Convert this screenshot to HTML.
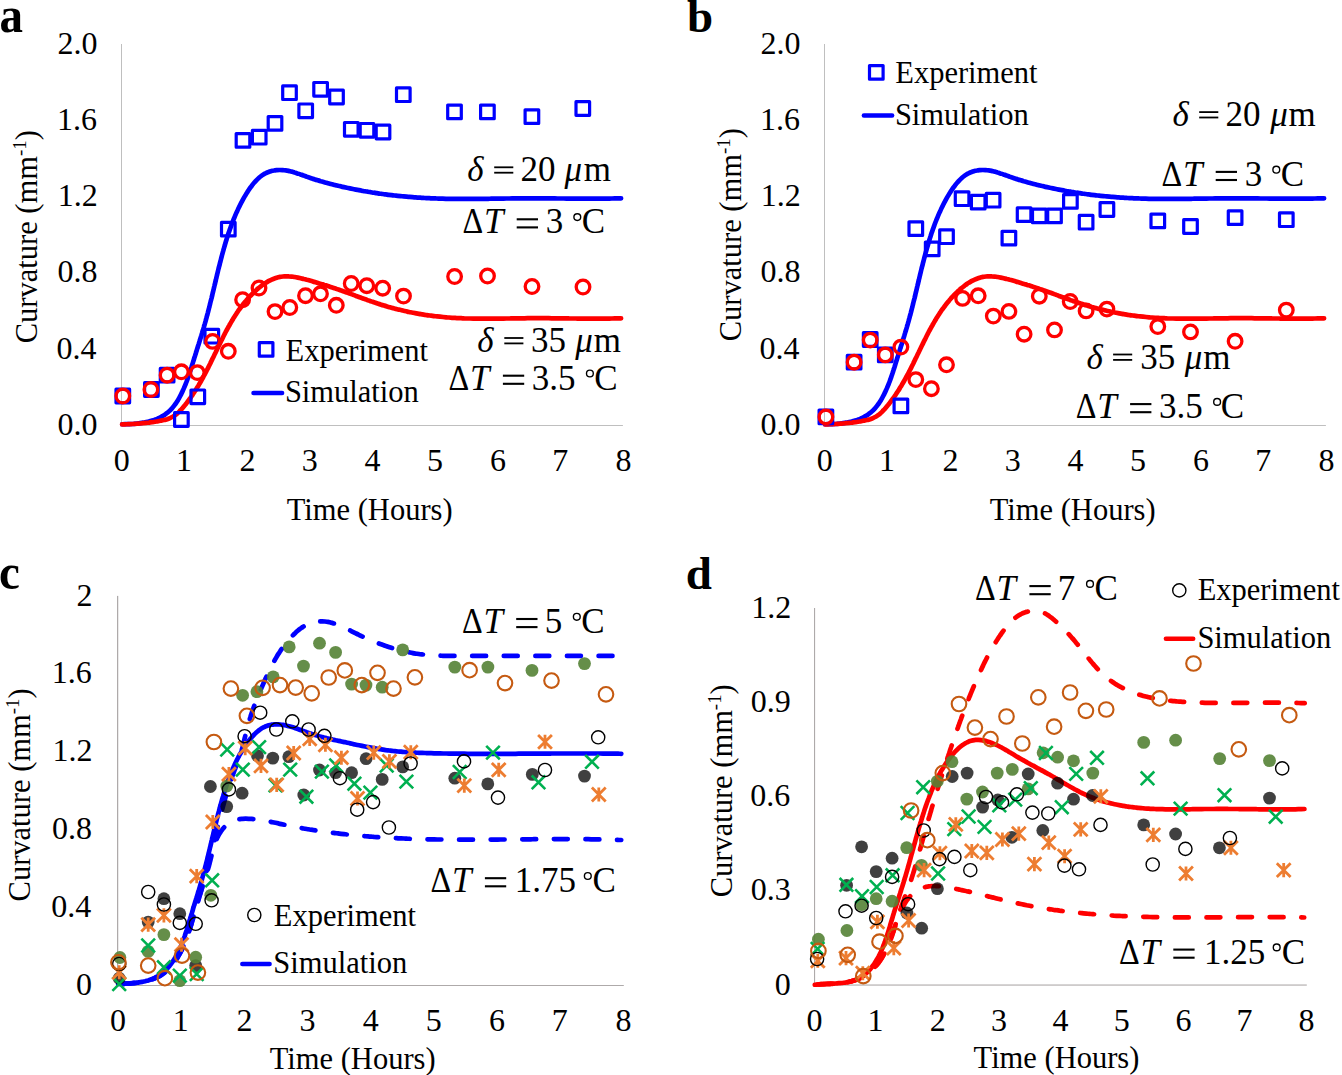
<!DOCTYPE html>
<html><head><meta charset="utf-8"><style>
html,body{margin:0;padding:0;background:#fff;overflow:hidden;width:1342px;height:1075px;}
svg{display:block;}
text{font-family:"Liberation Serif", serif;}
</style></head><body>
<svg width="1342" height="1075" viewBox="0 0 1342 1075">
<rect width="1342" height="1075" fill="#fff"/>
<rect x="121.00" y="44.00" width="1.0" height="382.00" fill="#bfbfbf"/>
<rect x="121.00" y="425.00" width="501.90" height="1.0" fill="#bfbfbf"/>
<text x="57.38" y="434.80" font-size="32" font-weight="normal" font-style="normal" fill="#000" >0.0</text>
<text x="56.58" y="358.60" font-size="32" font-weight="normal" font-style="normal" fill="#000" >0.4</text>
<text x="57.38" y="282.40" font-size="32" font-weight="normal" font-style="normal" fill="#000" >0.8</text>
<text x="57.86" y="206.20" font-size="32" font-weight="normal" font-style="normal" fill="#000" >1.2</text>
<text x="57.06" y="130.00" font-size="32" font-weight="normal" font-style="normal" fill="#000" >1.6</text>
<text x="57.38" y="53.80" font-size="32" font-weight="normal" font-style="normal" fill="#000" >2.0</text>
<text x="113.80" y="471.30" font-size="32" font-weight="normal" font-style="normal" fill="#000" >0</text>
<text x="176.11" y="471.30" font-size="32" font-weight="normal" font-style="normal" fill="#000" >1</text>
<text x="239.38" y="471.30" font-size="32" font-weight="normal" font-style="normal" fill="#000" >2</text>
<text x="301.86" y="471.30" font-size="32" font-weight="normal" font-style="normal" fill="#000" >3</text>
<text x="364.57" y="471.30" font-size="32" font-weight="normal" font-style="normal" fill="#000" >4</text>
<text x="427.04" y="471.30" font-size="32" font-weight="normal" font-style="normal" fill="#000" >5</text>
<text x="489.92" y="471.30" font-size="32" font-weight="normal" font-style="normal" fill="#000" >6</text>
<text x="552.23" y="471.30" font-size="32" font-weight="normal" font-style="normal" fill="#000" >7</text>
<text x="615.50" y="471.30" font-size="32" font-weight="normal" font-style="normal" fill="#000" >8</text>
<text x="286.79" y="519.80" font-size="30.5" font-weight="normal" font-style="normal" fill="#000" >Time (Hours)</text>
<path d="M122.25,424.26C123.2,424.2 124.1,424.2 125.1,424.2C126.1,424.2 127.0,424.1 128.0,424.1C129.0,424.1 130.0,424.0 131.0,424.0C132.0,423.9 133.0,423.8 134.0,423.8C135.0,423.7 136.0,423.6 137.1,423.5C138.1,423.4 139.1,423.3 140.1,423.1C141.1,423.0 142.2,422.8 143.2,422.7C144.2,422.5 145.2,422.3 146.2,422.1C147.2,421.9 148.2,421.7 149.2,421.4C150.2,421.2 151.2,420.9 152.2,420.6C153.2,420.3 154.1,420.0 155.1,419.6C156.0,419.3 156.9,418.9 157.9,418.5C158.8,418.1 159.7,417.7 160.5,417.2C161.4,416.7 162.3,416.2 163.1,415.7C164.0,415.2 164.8,414.7 165.6,414.1C166.4,413.5 167.1,412.9 167.9,412.3C168.7,411.6 169.4,411.0 170.1,410.3C170.8,409.6 171.5,408.9 172.1,408.2C172.8,407.4 173.4,406.7 174.0,405.9C174.6,405.1 175.2,404.3 175.8,403.5C176.3,402.7 176.9,401.8 177.4,401.0C177.9,400.1 178.5,399.3 179.0,398.4C179.4,397.5 179.9,396.6 180.4,395.7C180.9,394.8 181.3,393.9 181.7,393.0C182.2,392.1 182.6,391.2 183.0,390.3C183.4,389.4 183.8,388.5 184.2,387.5C184.6,386.6 185.0,385.7 185.4,384.7C185.8,383.8 186.1,382.8 186.5,381.9C186.8,380.9 187.2,380.0 187.5,379.0C187.9,378.1 188.2,377.1 188.5,376.2C188.9,375.2 189.2,374.2 189.5,373.3C189.8,372.3 190.1,371.3 190.4,370.4C190.7,369.4 191.1,368.4 191.4,367.5C191.7,366.5 192.0,365.5 192.3,364.5C192.6,363.6 192.9,362.6 193.2,361.6C193.5,360.7 193.8,359.7 194.1,358.7C194.4,357.8 194.7,356.8 195.0,355.9C195.3,354.9 195.6,353.9 195.9,353.0C196.2,352.0 196.5,351.1 196.8,350.1C197.1,349.1 197.4,348.2 197.7,347.2C198.0,346.3 198.3,345.3 198.6,344.4C198.9,343.4 199.2,342.4 199.5,341.5C199.8,340.5 200.1,339.6 200.4,338.6C200.7,337.7 201.0,336.7 201.3,335.8C201.6,334.8 201.8,333.8 202.1,332.9C202.4,331.9 202.7,331.0 203.0,330.0C203.3,329.1 203.6,328.1 203.9,327.1C204.1,326.2 204.4,325.2 204.7,324.3C205.0,323.3 205.2,322.3 205.5,321.4C205.8,320.4 206.0,319.4 206.3,318.5C206.6,317.5 206.8,316.5 207.1,315.6C207.4,314.6 207.6,313.6 207.9,312.6C208.1,311.7 208.4,310.7 208.6,309.7C208.9,308.7 209.1,307.8 209.4,306.8C209.6,305.8 209.9,304.8 210.1,303.8C210.4,302.9 210.6,301.9 210.8,300.9C211.1,299.9 211.3,298.9 211.6,298.0C211.8,297.0 212.0,296.0 212.3,295.0C212.5,294.0 212.7,293.0 213.0,292.1C213.2,291.1 213.4,290.1 213.7,289.1C213.9,288.1 214.1,287.1 214.4,286.1C214.6,285.2 214.8,284.2 215.1,283.2C215.3,282.2 215.5,281.2 215.8,280.2C216.0,279.2 216.3,278.3 216.5,277.3C216.7,276.3 217.0,275.3 217.2,274.3C217.4,273.3 217.7,272.4 217.9,271.4C218.2,270.4 218.4,269.4 218.6,268.4C218.9,267.4 219.1,266.5 219.4,265.5C219.6,264.5 219.9,263.5 220.1,262.6C220.4,261.6 220.6,260.6 220.9,259.6C221.1,258.6 221.4,257.7 221.6,256.7C221.9,255.7 222.1,254.8 222.4,253.8C222.7,252.8 222.9,251.8 223.2,250.9C223.5,249.9 223.7,248.9 224.0,248.0C224.3,247.0 224.6,246.0 224.9,245.1C225.1,244.1 225.4,243.2 225.7,242.2C226.0,241.2 226.3,240.3 226.6,239.3C226.9,238.4 227.2,237.4 227.5,236.5C227.8,235.5 228.1,234.6 228.4,233.6C228.7,232.7 229.1,231.8 229.4,230.8C229.7,229.9 230.0,228.9 230.4,228.0C230.7,227.1 231.0,226.1 231.4,225.2C231.7,224.3 232.1,223.3 232.4,222.4C232.8,221.5 233.1,220.6 233.5,219.6C233.9,218.7 234.3,217.8 234.7,216.9C235.0,215.9 235.4,215.0 235.8,214.1C236.2,213.2 236.6,212.3 237.1,211.4C237.5,210.4 237.9,209.5 238.3,208.6C238.8,207.7 239.2,206.8 239.7,205.9C240.1,205.0 240.6,204.1 241.0,203.2C241.5,202.3 242.0,201.4 242.5,200.4C243.0,199.5 243.5,198.6 244.0,197.7C244.5,196.8 245.0,195.9 245.6,195.0C246.1,194.1 246.7,193.2 247.2,192.4C247.8,191.5 248.3,190.6 248.9,189.7C249.5,188.8 250.1,188.0 250.7,187.1C251.3,186.3 252.0,185.5 252.6,184.7C253.2,183.9 253.9,183.1 254.6,182.3C255.2,181.5 255.9,180.8 256.6,180.1C257.3,179.4 258.0,178.7 258.8,178.0C259.5,177.4 260.3,176.7 261.0,176.2C261.8,175.6 262.6,175.0 263.4,174.5C264.2,174.0 265.0,173.5 265.9,173.1C266.7,172.7 267.6,172.3 268.5,172.0C269.4,171.6 270.3,171.3 271.2,171.1C272.1,170.8 273.0,170.6 274.0,170.5C274.9,170.3 275.9,170.2 276.8,170.1C277.8,170.0 278.8,170.0 279.8,170.0C280.7,170.0 281.7,170.0 282.7,170.1C283.7,170.2 284.7,170.3 285.7,170.4C286.7,170.5 287.7,170.7 288.6,170.9C289.6,171.1 290.6,171.4 291.6,171.6C292.6,171.9 293.5,172.2 294.5,172.5C295.5,172.7 296.5,173.1 297.4,173.4C298.4,173.7 299.4,174.1 300.4,174.4C301.3,174.7 302.3,175.1 303.3,175.4C304.2,175.8 305.2,176.1 306.2,176.5C307.1,176.8 308.1,177.2 309.1,177.5C310.0,177.8 311.0,178.1 312.0,178.5C312.9,178.8 313.9,179.1 314.9,179.4C315.8,179.7 316.8,180.0 317.8,180.3C318.7,180.6 319.7,180.9 320.7,181.2C321.6,181.4 322.6,181.7 323.6,182.0C324.6,182.3 325.5,182.5 326.5,182.8C327.5,183.1 328.4,183.3 329.4,183.6C330.4,183.8 331.3,184.1 332.3,184.3C333.3,184.6 334.3,184.8 335.2,185.1C336.2,185.3 337.2,185.5 338.2,185.8C339.1,186.0 340.1,186.2 341.1,186.4C342.1,186.7 343.0,186.9 344.0,187.1C345.0,187.3 346.0,187.5 347.0,187.8C347.9,188.0 348.9,188.2 349.9,188.4C350.9,188.6 351.9,188.8 352.9,189.0C353.8,189.2 354.8,189.4 355.8,189.6C356.8,189.8 357.8,190.0 358.8,190.1C359.8,190.3 360.8,190.5 361.7,190.7C362.7,190.9 363.7,191.0 364.7,191.2C365.7,191.4 366.7,191.6 367.7,191.7C368.7,191.9 369.7,192.1 370.7,192.2C371.7,192.4 372.6,192.5 373.6,192.7C374.6,192.8 375.6,193.0 376.6,193.1C377.6,193.3 378.6,193.4 379.6,193.6C380.6,193.7 381.6,193.9 382.6,194.0C383.6,194.1 384.6,194.3 385.6,194.4C386.6,194.5 387.6,194.7 388.6,194.8C389.6,194.9 390.6,195.0 391.6,195.1C392.6,195.3 393.6,195.4 394.6,195.5C395.6,195.6 396.6,195.7 397.6,195.8C398.6,195.9 399.6,196.0 400.6,196.1C401.6,196.2 402.6,196.3 403.6,196.4C404.6,196.5 405.6,196.6 406.6,196.7C407.6,196.8 408.6,196.9 409.6,196.9C410.7,197.0 411.7,197.1 412.7,197.2C413.7,197.3 414.7,197.3 415.7,197.4C416.7,197.5 417.7,197.6 418.7,197.6C419.7,197.7 420.7,197.7 421.7,197.8C422.7,197.9 423.7,197.9 424.7,198.0C425.7,198.0 426.7,198.1 427.7,198.1C428.8,198.2 429.8,198.2 430.8,198.3C431.8,198.3 432.8,198.4 433.8,198.4C434.8,198.4 435.8,198.5 436.8,198.5C437.8,198.5 438.8,198.6 439.8,198.6C440.8,198.6 441.8,198.7 442.8,198.7C443.8,198.7 444.9,198.7 445.9,198.8C446.9,198.8 447.9,198.8 448.9,198.8C449.9,198.8 450.9,198.8 451.9,198.9C452.9,198.9 453.9,198.9 454.9,198.9C455.9,198.9 456.9,198.9 457.9,198.9C458.9,198.9 460.0,198.9 461.0,198.9C462.0,198.9 463.0,198.9 464.0,198.9C465.0,198.9 466.0,198.9 467.0,198.9C468.0,198.9 469.0,198.9 470.0,198.9C471.0,198.9 472.0,198.9 473.0,198.9C474.1,198.9 475.1,198.9 476.1,198.9C477.1,198.9 478.1,198.9 479.1,198.9C480.1,198.9 481.1,198.8 482.1,198.8C483.1,198.8 484.1,198.8 485.1,198.8C486.1,198.8 487.1,198.8 488.2,198.8C489.2,198.8 490.2,198.7 491.2,198.7C492.2,198.7 493.2,198.7 494.2,198.7C495.2,198.7 496.2,198.7 497.2,198.6C498.2,198.6 499.2,198.6 500.2,198.6C501.2,198.6 502.3,198.6 503.3,198.6C504.3,198.5 505.3,198.5 506.3,198.5C507.3,198.5 508.3,198.5 509.3,198.5C510.3,198.5 511.3,198.5 512.3,198.4C513.3,198.4 514.3,198.4 515.3,198.4C516.4,198.4 517.4,198.4 518.4,198.4C519.4,198.4 520.4,198.4 521.4,198.4C522.4,198.3 523.4,198.3 524.4,198.3C525.4,198.3 526.4,198.3 527.4,198.3C528.4,198.3 529.4,198.3 530.5,198.3C531.5,198.3 532.5,198.3 533.5,198.3C534.5,198.3 535.5,198.3 536.5,198.3C537.5,198.3 538.5,198.3 539.5,198.3C540.5,198.3 541.5,198.3 542.5,198.4C543.5,198.4 544.6,198.4 545.6,198.4C546.6,198.4 547.6,198.4 548.6,198.4C549.6,198.4 550.6,198.4 551.6,198.4C552.6,198.4 553.6,198.4 554.6,198.4C555.6,198.5 556.6,198.5 557.6,198.5C558.7,198.5 559.7,198.5 560.7,198.5C561.7,198.5 562.7,198.5 563.7,198.5C564.7,198.5 565.7,198.5 566.7,198.6C567.7,198.6 568.7,198.6 569.7,198.6C570.7,198.6 571.7,198.6 572.8,198.6C573.8,198.6 574.8,198.6 575.8,198.6C576.8,198.6 577.8,198.6 578.8,198.7C579.8,198.7 580.8,198.7 581.8,198.7C582.8,198.7 583.8,198.7 584.8,198.7C585.8,198.7 586.9,198.7 587.9,198.7C588.9,198.7 589.9,198.7 590.9,198.7C591.9,198.7 592.9,198.7 593.9,198.7C594.9,198.7 595.9,198.7 596.9,198.7C597.9,198.7 598.9,198.7 599.9,198.7C601.0,198.6 602.0,198.6 603.0,198.6C604.0,198.6 605.0,198.6 606.0,198.6C607.0,198.6 608.0,198.6 609.0,198.6C610.0,198.5 611.0,198.5 612.0,198.5C613.0,198.5 614.0,198.5 615.1,198.4C616.1,198.4 617.1,198.4 618.1,198.4C619.1,198.3 620.1,198.3 621.1,198.3" fill="none" stroke="#0000ff" stroke-width="4.7" stroke-linecap="round" stroke-linejoin="round"/>
<path d="M122.11,424.33C123.1,424.3 124.1,424.3 125.1,424.3C126.1,424.3 127.1,424.2 128.2,424.2C129.2,424.2 130.2,424.1 131.2,424.1C132.2,424.0 133.2,424.0 134.2,423.9C135.2,423.9 136.1,423.8 137.1,423.7C138.1,423.7 139.1,423.6 140.1,423.5C141.1,423.4 142.1,423.3 143.1,423.2C144.1,423.1 145.1,423.0 146.1,422.9C147.1,422.8 148.1,422.7 149.1,422.6C150.1,422.4 151.1,422.3 152.1,422.2C153.1,422.0 154.1,421.9 155.1,421.7C156.2,421.5 157.2,421.4 158.2,421.2C159.2,421.0 160.2,420.9 161.2,420.6C162.2,420.4 163.2,420.2 164.2,420.0C165.2,419.7 166.2,419.5 167.2,419.2C168.1,418.9 169.1,418.5 170.0,418.1C170.9,417.7 171.8,417.3 172.7,416.8C173.5,416.3 174.3,415.8 175.1,415.2C175.9,414.6 176.7,414.0 177.4,413.3C178.1,412.7 178.8,412.0 179.5,411.3C180.2,410.6 180.9,409.8 181.6,409.1C182.3,408.3 182.9,407.6 183.6,406.8C184.2,406.0 184.8,405.3 185.5,404.5C186.1,403.7 186.7,402.9 187.3,402.1C187.9,401.3 188.5,400.5 189.1,399.7C189.7,398.9 190.3,398.1 190.9,397.3C191.5,396.5 192.0,395.6 192.6,394.8C193.1,394.0 193.7,393.1 194.2,392.3C194.8,391.5 195.3,390.6 195.9,389.8C196.4,388.9 196.9,388.1 197.4,387.2C198.0,386.4 198.5,385.5 199.0,384.6C199.5,383.8 200.0,382.9 200.5,382.0C201.0,381.1 201.5,380.3 202.0,379.4C202.5,378.5 203.0,377.6 203.4,376.7C203.9,375.8 204.4,375.0 204.9,374.1C205.3,373.2 205.8,372.3 206.3,371.4C206.7,370.5 207.2,369.6 207.7,368.7C208.1,367.8 208.6,366.9 209.0,366.0C209.5,365.1 209.9,364.2 210.4,363.2C210.8,362.3 211.3,361.4 211.7,360.5C212.1,359.6 212.6,358.7 213.0,357.8C213.5,356.9 213.9,356.0 214.3,355.1C214.8,354.2 215.2,353.3 215.7,352.3C216.1,351.4 216.5,350.5 217.0,349.6C217.4,348.7 217.8,347.8 218.3,346.9C218.7,346.0 219.2,345.1 219.6,344.2C220.0,343.3 220.5,342.4 220.9,341.5C221.4,340.6 221.8,339.7 222.3,338.8C222.7,337.9 223.2,337.0 223.6,336.1C224.1,335.2 224.5,334.3 225.0,333.4C225.5,332.5 225.9,331.6 226.4,330.7C226.9,329.9 227.3,329.0 227.8,328.1C228.3,327.2 228.8,326.3 229.3,325.5C229.8,324.6 230.2,323.7 230.7,322.9C231.2,322.0 231.8,321.1 232.3,320.3C232.8,319.4 233.3,318.6 233.8,317.7C234.3,316.9 234.9,316.0 235.4,315.2C236.0,314.4 236.5,313.5 237.1,312.7C237.6,311.9 238.2,311.1 238.7,310.2C239.3,309.4 239.9,308.6 240.5,307.8C241.1,307.0 241.7,306.2 242.3,305.4C242.9,304.6 243.5,303.8 244.1,303.0C244.8,302.2 245.4,301.5 246.1,300.7C246.7,299.9 247.4,299.2 248.0,298.4C248.7,297.6 249.4,296.9 250.1,296.2C250.8,295.4 251.5,294.7 252.2,294.0C252.9,293.2 253.7,292.5 254.4,291.8C255.2,291.1 255.9,290.4 256.7,289.7C257.4,289.0 258.2,288.4 259.0,287.7C259.8,287.0 260.6,286.4 261.4,285.8C262.2,285.2 263.1,284.6 263.9,284.0C264.7,283.4 265.6,282.9 266.4,282.4C267.3,281.9 268.1,281.4 269.0,280.9C269.9,280.4 270.8,280.0 271.7,279.6C272.6,279.2 273.5,278.8 274.4,278.5C275.3,278.1 276.2,277.8 277.2,277.6C278.1,277.3 279.0,277.1 280.0,276.9C280.9,276.7 281.9,276.6 282.9,276.5C283.8,276.4 284.8,276.4 285.8,276.3C286.8,276.3 287.8,276.3 288.7,276.4C289.7,276.4 290.7,276.5 291.7,276.6C292.7,276.7 293.7,276.9 294.7,277.0C295.8,277.2 296.8,277.4 297.8,277.6C298.8,277.8 299.8,278.0 300.8,278.2C301.8,278.5 302.8,278.7 303.8,279.0C304.8,279.2 305.8,279.5 306.8,279.8C307.8,280.0 308.8,280.3 309.8,280.6C310.8,280.9 311.8,281.2 312.8,281.4C313.7,281.7 314.7,282.0 315.7,282.3C316.7,282.6 317.6,282.9 318.6,283.2C319.6,283.5 320.5,283.8 321.5,284.1C322.4,284.3 323.4,284.6 324.3,284.9C325.3,285.2 326.2,285.5 327.2,285.8C328.1,286.1 329.1,286.5 330.0,286.8C331.0,287.1 331.9,287.4 332.9,287.7C333.8,288.0 334.7,288.3 335.7,288.6C336.6,289.0 337.5,289.3 338.5,289.6C339.4,289.9 340.4,290.2 341.3,290.6C342.2,290.9 343.2,291.2 344.1,291.6C345.0,291.9 346.0,292.2 346.9,292.6C347.9,292.9 348.8,293.2 349.7,293.6C350.7,293.9 351.6,294.3 352.6,294.6C353.5,295.0 354.5,295.3 355.4,295.7C356.3,296.0 357.3,296.4 358.2,296.7C359.2,297.1 360.1,297.4 361.1,297.8C362.0,298.1 363.0,298.4 363.9,298.8C364.9,299.1 365.8,299.5 366.8,299.8C367.7,300.2 368.7,300.5 369.7,300.8C370.6,301.2 371.6,301.5 372.5,301.8C373.5,302.2 374.4,302.5 375.4,302.8C376.4,303.2 377.3,303.5 378.3,303.8C379.2,304.1 380.2,304.4 381.2,304.7C382.1,305.0 383.1,305.3 384.1,305.6C385.0,305.9 386.0,306.2 387.0,306.5C387.9,306.8 388.9,307.0 389.9,307.3C390.8,307.6 391.8,307.9 392.8,308.1C393.7,308.4 394.7,308.6 395.7,308.9C396.7,309.1 397.6,309.4 398.6,309.6C399.6,309.9 400.6,310.1 401.6,310.3C402.5,310.6 403.5,310.8 404.5,311.0C405.5,311.2 406.5,311.4 407.4,311.6C408.4,311.8 409.4,312.1 410.4,312.3C411.4,312.5 412.3,312.6 413.3,312.8C414.3,313.0 415.3,313.2 416.3,313.4C417.3,313.6 418.3,313.7 419.3,313.9C420.2,314.1 421.2,314.2 422.2,314.4C423.2,314.6 424.2,314.7 425.2,314.9C426.2,315.0 427.2,315.2 428.2,315.3C429.2,315.4 430.2,315.6 431.1,315.7C432.1,315.8 433.1,316.0 434.1,316.1C435.1,316.2 436.1,316.3 437.1,316.4C438.1,316.5 439.1,316.6 440.1,316.7C441.1,316.8 442.1,316.9 443.1,317.0C444.1,317.1 445.1,317.2 446.1,317.3C447.1,317.4 448.1,317.5 449.1,317.5C450.1,317.6 451.1,317.7 452.1,317.8C453.1,317.8 454.1,317.9 455.1,317.9C456.1,318.0 457.1,318.1 458.1,318.1C459.1,318.2 460.1,318.2 461.1,318.2C462.1,318.3 463.1,318.3 464.1,318.4C465.1,318.4 466.1,318.4 467.1,318.5C468.1,318.5 469.2,318.5 470.2,318.5C471.2,318.6 472.2,318.6 473.2,318.6C474.2,318.6 475.2,318.6 476.2,318.6C477.2,318.7 478.2,318.7 479.2,318.7C480.2,318.7 481.2,318.7 482.2,318.7C483.2,318.7 484.3,318.7 485.3,318.7C486.3,318.7 487.3,318.7 488.3,318.7C489.3,318.7 490.3,318.7 491.3,318.7C492.3,318.7 493.3,318.7 494.3,318.7C495.3,318.7 496.4,318.6 497.4,318.6C498.4,318.6 499.4,318.6 500.4,318.6C501.4,318.6 502.4,318.6 503.4,318.6C504.4,318.5 505.4,318.5 506.4,318.5C507.4,318.5 508.5,318.5 509.5,318.5C510.5,318.5 511.5,318.4 512.5,318.4C513.5,318.4 514.5,318.4 515.5,318.4C516.5,318.4 517.5,318.3 518.5,318.3C519.5,318.3 520.6,318.3 521.6,318.3C522.6,318.3 523.6,318.3 524.6,318.3C525.6,318.2 526.6,318.2 527.6,318.2C528.6,318.2 529.6,318.2 530.6,318.2C531.6,318.2 532.6,318.2 533.6,318.2C534.7,318.2 535.7,318.2 536.7,318.2C537.7,318.2 538.7,318.2 539.7,318.2C540.7,318.2 541.7,318.2 542.7,318.2C543.7,318.2 544.7,318.2 545.7,318.2C546.7,318.2 547.7,318.2 548.7,318.2C549.7,318.2 550.7,318.2 551.7,318.3C552.7,318.3 553.7,318.3 554.7,318.3C555.7,318.3 556.8,318.3 557.8,318.3C558.8,318.3 559.8,318.3 560.8,318.4C561.8,318.4 562.8,318.4 563.8,318.4C564.8,318.4 565.8,318.4 566.8,318.4C567.8,318.4 568.8,318.5 569.8,318.5C570.8,318.5 571.8,318.5 572.8,318.5C573.8,318.5 574.8,318.5 575.8,318.5C576.8,318.5 577.8,318.6 578.8,318.6C579.8,318.6 580.8,318.6 581.8,318.6C582.9,318.6 583.9,318.6 584.9,318.6C585.9,318.6 586.9,318.6 587.9,318.6C588.9,318.6 589.9,318.7 590.9,318.7C591.9,318.7 592.9,318.7 593.9,318.7C594.9,318.7 595.9,318.7 596.9,318.7C597.9,318.7 598.9,318.7 599.9,318.7C601.0,318.6 602.0,318.6 603.0,318.6C604.0,318.6 605.0,318.6 606.0,318.6C607.0,318.6 608.0,318.6 609.0,318.6C610.0,318.5 611.0,318.5 612.0,318.5C613.1,318.5 614.1,318.5 615.1,318.4C616.1,318.4 617.1,318.4 618.1,318.4C619.1,318.3 620.1,318.3 621.1,318.3" fill="none" stroke="#ff0000" stroke-width="4.7" stroke-linecap="round" stroke-linejoin="round"/>
<rect x="116.00" y="389.20" width="13.60" height="13.60" fill="none" stroke="#0000ff" stroke-width="3.2" stroke-linejoin="round"/>
<rect x="144.60" y="382.70" width="13.60" height="13.60" fill="none" stroke="#0000ff" stroke-width="3.2" stroke-linejoin="round"/>
<rect x="160.30" y="368.40" width="13.60" height="13.60" fill="none" stroke="#0000ff" stroke-width="3.2" stroke-linejoin="round"/>
<rect x="174.60" y="412.70" width="13.60" height="13.60" fill="none" stroke="#0000ff" stroke-width="3.2" stroke-linejoin="round"/>
<rect x="191.00" y="390.00" width="13.60" height="13.60" fill="none" stroke="#0000ff" stroke-width="3.2" stroke-linejoin="round"/>
<rect x="205.00" y="329.40" width="13.60" height="13.60" fill="none" stroke="#0000ff" stroke-width="3.2" stroke-linejoin="round"/>
<rect x="221.50" y="222.30" width="13.60" height="13.60" fill="none" stroke="#0000ff" stroke-width="3.2" stroke-linejoin="round"/>
<rect x="236.20" y="133.60" width="13.60" height="13.60" fill="none" stroke="#0000ff" stroke-width="3.2" stroke-linejoin="round"/>
<rect x="252.40" y="130.40" width="13.60" height="13.60" fill="none" stroke="#0000ff" stroke-width="3.2" stroke-linejoin="round"/>
<rect x="268.20" y="116.60" width="13.60" height="13.60" fill="none" stroke="#0000ff" stroke-width="3.2" stroke-linejoin="round"/>
<rect x="282.70" y="85.90" width="13.60" height="13.60" fill="none" stroke="#0000ff" stroke-width="3.2" stroke-linejoin="round"/>
<rect x="298.90" y="104.00" width="13.60" height="13.60" fill="none" stroke="#0000ff" stroke-width="3.2" stroke-linejoin="round"/>
<rect x="313.80" y="82.50" width="13.60" height="13.60" fill="none" stroke="#0000ff" stroke-width="3.2" stroke-linejoin="round"/>
<rect x="329.70" y="90.20" width="13.60" height="13.60" fill="none" stroke="#0000ff" stroke-width="3.2" stroke-linejoin="round"/>
<rect x="344.50" y="122.50" width="13.60" height="13.60" fill="none" stroke="#0000ff" stroke-width="3.2" stroke-linejoin="round"/>
<rect x="360.20" y="123.50" width="13.60" height="13.60" fill="none" stroke="#0000ff" stroke-width="3.2" stroke-linejoin="round"/>
<rect x="376.20" y="125.20" width="13.60" height="13.60" fill="none" stroke="#0000ff" stroke-width="3.2" stroke-linejoin="round"/>
<rect x="396.50" y="87.90" width="13.60" height="13.60" fill="none" stroke="#0000ff" stroke-width="3.2" stroke-linejoin="round"/>
<rect x="447.70" y="105.10" width="13.60" height="13.60" fill="none" stroke="#0000ff" stroke-width="3.2" stroke-linejoin="round"/>
<rect x="480.60" y="105.10" width="13.60" height="13.60" fill="none" stroke="#0000ff" stroke-width="3.2" stroke-linejoin="round"/>
<rect x="525.10" y="109.80" width="13.60" height="13.60" fill="none" stroke="#0000ff" stroke-width="3.2" stroke-linejoin="round"/>
<rect x="576.00" y="101.70" width="13.60" height="13.60" fill="none" stroke="#0000ff" stroke-width="3.2" stroke-linejoin="round"/>
<circle cx="122.80" cy="396.00" r="6.80" fill="none" stroke="#ff0000" stroke-width="3.3"/>
<circle cx="150.90" cy="389.50" r="6.80" fill="none" stroke="#ff0000" stroke-width="3.3"/>
<circle cx="167.10" cy="375.20" r="6.80" fill="none" stroke="#ff0000" stroke-width="3.3"/>
<circle cx="181.40" cy="371.80" r="6.80" fill="none" stroke="#ff0000" stroke-width="3.3"/>
<circle cx="197.30" cy="372.60" r="6.80" fill="none" stroke="#ff0000" stroke-width="3.3"/>
<circle cx="212.60" cy="341.40" r="6.80" fill="none" stroke="#ff0000" stroke-width="3.3"/>
<circle cx="228.30" cy="351.30" r="6.80" fill="none" stroke="#ff0000" stroke-width="3.3"/>
<circle cx="242.60" cy="299.70" r="6.80" fill="none" stroke="#ff0000" stroke-width="3.3"/>
<circle cx="259.00" cy="288.00" r="6.80" fill="none" stroke="#ff0000" stroke-width="3.3"/>
<circle cx="275.00" cy="311.60" r="6.80" fill="none" stroke="#ff0000" stroke-width="3.3"/>
<circle cx="289.80" cy="307.50" r="6.80" fill="none" stroke="#ff0000" stroke-width="3.3"/>
<circle cx="305.50" cy="295.70" r="6.80" fill="none" stroke="#ff0000" stroke-width="3.3"/>
<circle cx="320.50" cy="293.80" r="6.80" fill="none" stroke="#ff0000" stroke-width="3.3"/>
<circle cx="336.30" cy="305.30" r="6.80" fill="none" stroke="#ff0000" stroke-width="3.3"/>
<circle cx="351.20" cy="283.50" r="6.80" fill="none" stroke="#ff0000" stroke-width="3.3"/>
<circle cx="366.80" cy="285.70" r="6.80" fill="none" stroke="#ff0000" stroke-width="3.3"/>
<circle cx="382.70" cy="288.20" r="6.80" fill="none" stroke="#ff0000" stroke-width="3.3"/>
<circle cx="403.50" cy="296.10" r="6.80" fill="none" stroke="#ff0000" stroke-width="3.3"/>
<circle cx="454.60" cy="276.50" r="6.80" fill="none" stroke="#ff0000" stroke-width="3.3"/>
<circle cx="487.50" cy="276.00" r="6.80" fill="none" stroke="#ff0000" stroke-width="3.3"/>
<circle cx="532.00" cy="286.50" r="6.80" fill="none" stroke="#ff0000" stroke-width="3.3"/>
<circle cx="583.00" cy="287.00" r="6.80" fill="none" stroke="#ff0000" stroke-width="3.3"/>
<text transform="translate(36.80,343.22) rotate(-90)" font-size="30.5">Curvature (mm<tspan font-size="18.91" dy="-10.98">-1</tspan><tspan dy="10.98">)</tspan></text>
<text transform="translate(-0.41,31.60) scale(1.0,1.1)" font-size="47" font-weight="bold" font-style="normal" fill="#000">a</text>
<rect x="259.30" y="342.60" width="13.60" height="13.60" fill="none" stroke="#0000ff" stroke-width="3.2" stroke-linejoin="round"/>
<text x="285.58" y="360.50" font-size="30.5" font-weight="normal" font-style="normal" fill="#000" >Experiment</text>
<line x1="253.5" y1="393" x2="282.1" y2="393" stroke="#0000ff" stroke-width="4.5" stroke-linecap="round"/>
<text x="284.92" y="402.30" font-size="30.5" font-weight="normal" font-style="normal" fill="#000" >Simulation</text>
<text x="467.25" y="181.30" font-size="35" font-weight="normal" font-style="italic" fill="#000" >δ</text>
<rect x="494.20" y="166.40" width="19.10" height="1.80" fill="#000"/>
<rect x="494.20" y="171.80" width="19.10" height="1.80" fill="#000"/>
<text x="520.42" y="181.30" font-size="35" font-weight="normal" font-style="normal" fill="#000" >20</text>
<text x="564.50" y="181.30" font-size="35" font-weight="normal" font-style="italic" fill="#000" >μ</text>
<text x="583.82" y="181.30" font-size="35" font-weight="normal" font-style="normal" fill="#000" >m</text>
<text transform="translate(462.41,233.30) scale(0.92,1.0)" font-size="35" font-weight="normal" font-style="normal" fill="#000">Δ</text>
<text x="483.93" y="233.30" font-size="35" font-weight="normal" font-style="italic" fill="#000" >T</text>
<rect x="516.70" y="218.25" width="21.30" height="2.10" fill="#000"/>
<rect x="516.70" y="226.35" width="21.30" height="2.10" fill="#000"/>
<text x="545.72" y="233.30" font-size="35" font-weight="normal" font-style="normal" fill="#000" >3</text>
<circle cx="577.30" cy="217.10" r="3.4" fill="none" stroke="#000" stroke-width="1.4"/>
<text x="581.80" y="233.30" font-size="35" font-weight="normal" font-style="normal" fill="#000" >C</text>
<text x="477.25" y="352.00" font-size="35" font-weight="normal" font-style="italic" fill="#000" >δ</text>
<rect x="504.30" y="337.10" width="19.10" height="1.80" fill="#000"/>
<rect x="504.30" y="342.50" width="19.10" height="1.80" fill="#000"/>
<text x="531.12" y="352.00" font-size="35" font-weight="normal" font-style="normal" fill="#000" >35</text>
<text x="575.20" y="352.00" font-size="35" font-weight="normal" font-style="italic" fill="#000" >μ</text>
<text x="593.72" y="352.00" font-size="35" font-weight="normal" font-style="normal" fill="#000" >m</text>
<text transform="translate(448.61,389.70) scale(0.92,1.0)" font-size="35" font-weight="normal" font-style="normal" fill="#000">Δ</text>
<text x="470.12" y="389.70" font-size="35" font-weight="normal" font-style="italic" fill="#000" >T</text>
<rect x="502.90" y="374.65" width="21.30" height="2.10" fill="#000"/>
<rect x="502.90" y="382.75" width="21.30" height="2.10" fill="#000"/>
<text x="531.82" y="389.70" font-size="35" font-weight="normal" font-style="normal" fill="#000" >3.5</text>
<circle cx="589.90" cy="373.50" r="3.4" fill="none" stroke="#000" stroke-width="1.4"/>
<text x="594.30" y="389.70" font-size="35" font-weight="normal" font-style="normal" fill="#000" >C</text>
<rect x="824.00" y="44.00" width="1.0" height="382.00" fill="#bfbfbf"/>
<rect x="824.00" y="425.00" width="501.90" height="1.0" fill="#bfbfbf"/>
<text x="760.38" y="434.80" font-size="32" font-weight="normal" font-style="normal" fill="#000" >0.0</text>
<text x="759.58" y="358.60" font-size="32" font-weight="normal" font-style="normal" fill="#000" >0.4</text>
<text x="760.38" y="282.40" font-size="32" font-weight="normal" font-style="normal" fill="#000" >0.8</text>
<text x="760.86" y="206.20" font-size="32" font-weight="normal" font-style="normal" fill="#000" >1.2</text>
<text x="760.06" y="130.00" font-size="32" font-weight="normal" font-style="normal" fill="#000" >1.6</text>
<text x="760.38" y="53.80" font-size="32" font-weight="normal" font-style="normal" fill="#000" >2.0</text>
<text x="816.80" y="471.30" font-size="32" font-weight="normal" font-style="normal" fill="#000" >0</text>
<text x="879.11" y="471.30" font-size="32" font-weight="normal" font-style="normal" fill="#000" >1</text>
<text x="942.38" y="471.30" font-size="32" font-weight="normal" font-style="normal" fill="#000" >2</text>
<text x="1004.86" y="471.30" font-size="32" font-weight="normal" font-style="normal" fill="#000" >3</text>
<text x="1067.57" y="471.30" font-size="32" font-weight="normal" font-style="normal" fill="#000" >4</text>
<text x="1130.04" y="471.30" font-size="32" font-weight="normal" font-style="normal" fill="#000" >5</text>
<text x="1192.91" y="471.30" font-size="32" font-weight="normal" font-style="normal" fill="#000" >6</text>
<text x="1255.23" y="471.30" font-size="32" font-weight="normal" font-style="normal" fill="#000" >7</text>
<text x="1318.50" y="471.30" font-size="32" font-weight="normal" font-style="normal" fill="#000" >8</text>
<text x="989.79" y="519.80" font-size="30.5" font-weight="normal" font-style="normal" fill="#000" >Time (Hours)</text>
<path d="M825.25,424.26C826.2,424.2 827.1,424.2 828.1,424.2C829.1,424.2 830.0,424.1 831.0,424.1C832.0,424.1 833.0,424.0 834.0,424.0C835.0,423.9 836.0,423.8 837.0,423.8C838.0,423.7 839.0,423.6 840.1,423.5C841.1,423.4 842.1,423.3 843.1,423.1C844.1,423.0 845.2,422.8 846.2,422.7C847.2,422.5 848.2,422.3 849.2,422.1C850.2,421.9 851.2,421.7 852.2,421.4C853.2,421.2 854.2,420.9 855.2,420.6C856.2,420.3 857.1,420.0 858.1,419.6C859.0,419.3 859.9,418.9 860.9,418.5C861.8,418.1 862.7,417.7 863.5,417.2C864.4,416.7 865.3,416.2 866.1,415.7C867.0,415.2 867.8,414.7 868.6,414.1C869.4,413.5 870.1,412.9 870.9,412.3C871.7,411.6 872.4,411.0 873.1,410.3C873.8,409.6 874.5,408.9 875.1,408.2C875.8,407.4 876.4,406.7 877.0,405.9C877.6,405.1 878.2,404.3 878.8,403.5C879.3,402.7 879.9,401.8 880.4,401.0C880.9,400.1 881.5,399.3 882.0,398.4C882.4,397.5 882.9,396.6 883.4,395.7C883.9,394.8 884.3,393.9 884.7,393.0C885.2,392.1 885.6,391.2 886.0,390.3C886.4,389.4 886.8,388.5 887.2,387.5C887.6,386.6 888.0,385.7 888.4,384.7C888.8,383.8 889.1,382.8 889.5,381.9C889.8,380.9 890.2,380.0 890.5,379.0C890.9,378.1 891.2,377.1 891.5,376.2C891.9,375.2 892.2,374.2 892.5,373.3C892.8,372.3 893.1,371.3 893.4,370.4C893.7,369.4 894.1,368.4 894.4,367.5C894.7,366.5 895.0,365.5 895.3,364.5C895.6,363.6 895.9,362.6 896.2,361.6C896.5,360.7 896.8,359.7 897.1,358.7C897.4,357.8 897.7,356.8 898.0,355.9C898.3,354.9 898.6,353.9 898.9,353.0C899.2,352.0 899.5,351.1 899.8,350.1C900.1,349.1 900.4,348.2 900.7,347.2C901.0,346.3 901.3,345.3 901.6,344.4C901.9,343.4 902.2,342.4 902.5,341.5C902.8,340.5 903.1,339.6 903.4,338.6C903.7,337.7 904.0,336.7 904.3,335.8C904.6,334.8 904.8,333.8 905.1,332.9C905.4,331.9 905.7,331.0 906.0,330.0C906.3,329.1 906.6,328.1 906.9,327.1C907.1,326.2 907.4,325.2 907.7,324.3C908.0,323.3 908.2,322.3 908.5,321.4C908.8,320.4 909.0,319.4 909.3,318.5C909.6,317.5 909.8,316.5 910.1,315.6C910.4,314.6 910.6,313.6 910.9,312.6C911.1,311.7 911.4,310.7 911.6,309.7C911.9,308.7 912.1,307.8 912.4,306.8C912.6,305.8 912.9,304.8 913.1,303.8C913.4,302.9 913.6,301.9 913.8,300.9C914.1,299.9 914.3,298.9 914.6,298.0C914.8,297.0 915.0,296.0 915.3,295.0C915.5,294.0 915.7,293.0 916.0,292.1C916.2,291.1 916.4,290.1 916.7,289.1C916.9,288.1 917.1,287.1 917.4,286.1C917.6,285.2 917.8,284.2 918.1,283.2C918.3,282.2 918.5,281.2 918.8,280.2C919.0,279.2 919.3,278.3 919.5,277.3C919.7,276.3 920.0,275.3 920.2,274.3C920.4,273.3 920.7,272.4 920.9,271.4C921.2,270.4 921.4,269.4 921.6,268.4C921.9,267.4 922.1,266.5 922.4,265.5C922.6,264.5 922.9,263.5 923.1,262.6C923.4,261.6 923.6,260.6 923.9,259.6C924.1,258.6 924.4,257.7 924.6,256.7C924.9,255.7 925.1,254.8 925.4,253.8C925.7,252.8 925.9,251.8 926.2,250.9C926.5,249.9 926.7,248.9 927.0,248.0C927.3,247.0 927.6,246.0 927.9,245.1C928.1,244.1 928.4,243.2 928.7,242.2C929.0,241.2 929.3,240.3 929.6,239.3C929.9,238.4 930.2,237.4 930.5,236.5C930.8,235.5 931.1,234.6 931.4,233.6C931.7,232.7 932.1,231.8 932.4,230.8C932.7,229.9 933.0,228.9 933.4,228.0C933.7,227.1 934.0,226.1 934.4,225.2C934.7,224.3 935.1,223.3 935.4,222.4C935.8,221.5 936.1,220.6 936.5,219.6C936.9,218.7 937.3,217.8 937.7,216.9C938.0,215.9 938.4,215.0 938.8,214.1C939.2,213.2 939.6,212.3 940.1,211.4C940.5,210.4 940.9,209.5 941.3,208.6C941.8,207.7 942.2,206.8 942.7,205.9C943.1,205.0 943.6,204.1 944.0,203.2C944.5,202.3 945.0,201.4 945.5,200.4C946.0,199.5 946.5,198.6 947.0,197.7C947.5,196.8 948.0,195.9 948.6,195.0C949.1,194.1 949.7,193.2 950.2,192.4C950.8,191.5 951.3,190.6 951.9,189.7C952.5,188.8 953.1,188.0 953.7,187.1C954.3,186.3 955.0,185.5 955.6,184.7C956.2,183.9 956.9,183.1 957.6,182.3C958.2,181.5 958.9,180.8 959.6,180.1C960.3,179.4 961.0,178.7 961.8,178.0C962.5,177.4 963.3,176.7 964.0,176.2C964.8,175.6 965.6,175.0 966.4,174.5C967.2,174.0 968.0,173.5 968.9,173.1C969.7,172.7 970.6,172.3 971.5,172.0C972.4,171.6 973.3,171.3 974.2,171.1C975.1,170.8 976.0,170.6 977.0,170.5C977.9,170.3 978.9,170.2 979.8,170.1C980.8,170.0 981.8,170.0 982.8,170.0C983.7,170.0 984.7,170.0 985.7,170.1C986.7,170.2 987.7,170.3 988.7,170.4C989.7,170.5 990.7,170.7 991.6,170.9C992.6,171.1 993.6,171.4 994.6,171.6C995.6,171.9 996.5,172.2 997.5,172.5C998.5,172.7 999.5,173.1 1000.4,173.4C1001.4,173.7 1002.4,174.1 1003.4,174.4C1004.3,174.7 1005.3,175.1 1006.3,175.4C1007.2,175.8 1008.2,176.1 1009.2,176.5C1010.1,176.8 1011.1,177.2 1012.1,177.5C1013.0,177.8 1014.0,178.1 1015.0,178.5C1015.9,178.8 1016.9,179.1 1017.9,179.4C1018.8,179.7 1019.8,180.0 1020.8,180.3C1021.7,180.6 1022.7,180.9 1023.7,181.2C1024.6,181.4 1025.6,181.7 1026.6,182.0C1027.6,182.3 1028.5,182.5 1029.5,182.8C1030.5,183.1 1031.4,183.3 1032.4,183.6C1033.4,183.8 1034.3,184.1 1035.3,184.3C1036.3,184.6 1037.3,184.8 1038.2,185.1C1039.2,185.3 1040.2,185.5 1041.2,185.8C1042.1,186.0 1043.1,186.2 1044.1,186.4C1045.1,186.7 1046.0,186.9 1047.0,187.1C1048.0,187.3 1049.0,187.5 1050.0,187.8C1050.9,188.0 1051.9,188.2 1052.9,188.4C1053.9,188.6 1054.9,188.8 1055.9,189.0C1056.8,189.2 1057.8,189.4 1058.8,189.6C1059.8,189.8 1060.8,190.0 1061.8,190.1C1062.8,190.3 1063.8,190.5 1064.7,190.7C1065.7,190.9 1066.7,191.0 1067.7,191.2C1068.7,191.4 1069.7,191.6 1070.7,191.7C1071.7,191.9 1072.7,192.1 1073.7,192.2C1074.7,192.4 1075.6,192.5 1076.6,192.7C1077.6,192.8 1078.6,193.0 1079.6,193.1C1080.6,193.3 1081.6,193.4 1082.6,193.6C1083.6,193.7 1084.6,193.9 1085.6,194.0C1086.6,194.1 1087.6,194.3 1088.6,194.4C1089.6,194.5 1090.6,194.7 1091.6,194.8C1092.6,194.9 1093.6,195.0 1094.6,195.1C1095.6,195.3 1096.6,195.4 1097.6,195.5C1098.6,195.6 1099.6,195.7 1100.6,195.8C1101.6,195.9 1102.6,196.0 1103.6,196.1C1104.6,196.2 1105.6,196.3 1106.6,196.4C1107.6,196.5 1108.6,196.6 1109.6,196.7C1110.6,196.8 1111.6,196.9 1112.6,196.9C1113.7,197.0 1114.7,197.1 1115.7,197.2C1116.7,197.3 1117.7,197.3 1118.7,197.4C1119.7,197.5 1120.7,197.6 1121.7,197.6C1122.7,197.7 1123.7,197.7 1124.7,197.8C1125.7,197.9 1126.7,197.9 1127.7,198.0C1128.7,198.0 1129.7,198.1 1130.7,198.1C1131.8,198.2 1132.8,198.2 1133.8,198.3C1134.8,198.3 1135.8,198.4 1136.8,198.4C1137.8,198.4 1138.8,198.5 1139.8,198.5C1140.8,198.5 1141.8,198.6 1142.8,198.6C1143.8,198.6 1144.8,198.7 1145.8,198.7C1146.8,198.7 1147.9,198.7 1148.9,198.8C1149.9,198.8 1150.9,198.8 1151.9,198.8C1152.9,198.8 1153.9,198.8 1154.9,198.9C1155.9,198.9 1156.9,198.9 1157.9,198.9C1158.9,198.9 1159.9,198.9 1160.9,198.9C1161.9,198.9 1163.0,198.9 1164.0,198.9C1165.0,198.9 1166.0,198.9 1167.0,198.9C1168.0,198.9 1169.0,198.9 1170.0,198.9C1171.0,198.9 1172.0,198.9 1173.0,198.9C1174.0,198.9 1175.0,198.9 1176.0,198.9C1177.1,198.9 1178.1,198.9 1179.1,198.9C1180.1,198.9 1181.1,198.9 1182.1,198.9C1183.1,198.9 1184.1,198.8 1185.1,198.8C1186.1,198.8 1187.1,198.8 1188.1,198.8C1189.1,198.8 1190.1,198.8 1191.2,198.8C1192.2,198.8 1193.2,198.7 1194.2,198.7C1195.2,198.7 1196.2,198.7 1197.2,198.7C1198.2,198.7 1199.2,198.7 1200.2,198.6C1201.2,198.6 1202.2,198.6 1203.2,198.6C1204.2,198.6 1205.3,198.6 1206.3,198.6C1207.3,198.5 1208.3,198.5 1209.3,198.5C1210.3,198.5 1211.3,198.5 1212.3,198.5C1213.3,198.5 1214.3,198.5 1215.3,198.4C1216.3,198.4 1217.3,198.4 1218.3,198.4C1219.4,198.4 1220.4,198.4 1221.4,198.4C1222.4,198.4 1223.4,198.4 1224.4,198.4C1225.4,198.3 1226.4,198.3 1227.4,198.3C1228.4,198.3 1229.4,198.3 1230.4,198.3C1231.4,198.3 1232.4,198.3 1233.5,198.3C1234.5,198.3 1235.5,198.3 1236.5,198.3C1237.5,198.3 1238.5,198.3 1239.5,198.3C1240.5,198.3 1241.5,198.3 1242.5,198.3C1243.5,198.3 1244.5,198.3 1245.5,198.4C1246.5,198.4 1247.6,198.4 1248.6,198.4C1249.6,198.4 1250.6,198.4 1251.6,198.4C1252.6,198.4 1253.6,198.4 1254.6,198.4C1255.6,198.4 1256.6,198.4 1257.6,198.4C1258.6,198.5 1259.6,198.5 1260.6,198.5C1261.7,198.5 1262.7,198.5 1263.7,198.5C1264.7,198.5 1265.7,198.5 1266.7,198.5C1267.7,198.5 1268.7,198.5 1269.7,198.6C1270.7,198.6 1271.7,198.6 1272.7,198.6C1273.7,198.6 1274.7,198.6 1275.8,198.6C1276.8,198.6 1277.8,198.6 1278.8,198.6C1279.8,198.6 1280.8,198.6 1281.8,198.7C1282.8,198.7 1283.8,198.7 1284.8,198.7C1285.8,198.7 1286.8,198.7 1287.8,198.7C1288.8,198.7 1289.9,198.7 1290.9,198.7C1291.9,198.7 1292.9,198.7 1293.9,198.7C1294.9,198.7 1295.9,198.7 1296.9,198.7C1297.9,198.7 1298.9,198.7 1299.9,198.7C1300.9,198.7 1301.9,198.7 1302.9,198.7C1304.0,198.6 1305.0,198.6 1306.0,198.6C1307.0,198.6 1308.0,198.6 1309.0,198.6C1310.0,198.6 1311.0,198.6 1312.0,198.6C1313.0,198.5 1314.0,198.5 1315.0,198.5C1316.0,198.5 1317.0,198.5 1318.1,198.4C1319.1,198.4 1320.1,198.4 1321.1,198.4C1322.1,198.3 1323.1,198.3 1324.1,198.3" fill="none" stroke="#0000ff" stroke-width="4.7" stroke-linecap="round" stroke-linejoin="round"/>
<path d="M825.11,424.33C826.1,424.3 827.1,424.3 828.1,424.3C829.1,424.3 830.1,424.2 831.2,424.2C832.2,424.2 833.2,424.1 834.2,424.1C835.2,424.0 836.2,424.0 837.2,423.9C838.2,423.9 839.1,423.8 840.1,423.7C841.1,423.7 842.1,423.6 843.1,423.5C844.1,423.4 845.1,423.3 846.1,423.2C847.1,423.1 848.1,423.0 849.1,422.9C850.1,422.8 851.1,422.7 852.1,422.6C853.1,422.4 854.1,422.3 855.1,422.2C856.1,422.0 857.1,421.9 858.1,421.7C859.2,421.5 860.2,421.4 861.2,421.2C862.2,421.0 863.2,420.9 864.2,420.6C865.2,420.4 866.2,420.2 867.2,420.0C868.2,419.7 869.2,419.5 870.2,419.2C871.1,418.9 872.1,418.5 873.0,418.1C873.9,417.7 874.8,417.3 875.7,416.8C876.5,416.3 877.3,415.8 878.1,415.2C878.9,414.6 879.7,414.0 880.4,413.3C881.1,412.7 881.8,412.0 882.5,411.3C883.2,410.6 883.9,409.8 884.6,409.1C885.3,408.3 885.9,407.6 886.6,406.8C887.2,406.0 887.8,405.3 888.5,404.5C889.1,403.7 889.7,402.9 890.3,402.1C890.9,401.3 891.5,400.5 892.1,399.7C892.7,398.9 893.3,398.1 893.9,397.3C894.5,396.5 895.0,395.6 895.6,394.8C896.1,394.0 896.7,393.1 897.2,392.3C897.8,391.5 898.3,390.6 898.9,389.8C899.4,388.9 899.9,388.1 900.4,387.2C901.0,386.4 901.5,385.5 902.0,384.6C902.5,383.8 903.0,382.9 903.5,382.0C904.0,381.1 904.5,380.3 905.0,379.4C905.5,378.5 906.0,377.6 906.4,376.7C906.9,375.8 907.4,375.0 907.9,374.1C908.3,373.2 908.8,372.3 909.3,371.4C909.7,370.5 910.2,369.6 910.7,368.7C911.1,367.8 911.6,366.9 912.0,366.0C912.5,365.1 912.9,364.2 913.4,363.2C913.8,362.3 914.3,361.4 914.7,360.5C915.1,359.6 915.6,358.7 916.0,357.8C916.5,356.9 916.9,356.0 917.3,355.1C917.8,354.2 918.2,353.3 918.7,352.3C919.1,351.4 919.5,350.5 920.0,349.6C920.4,348.7 920.8,347.8 921.3,346.9C921.7,346.0 922.2,345.1 922.6,344.2C923.0,343.3 923.5,342.4 923.9,341.5C924.4,340.6 924.8,339.7 925.3,338.8C925.7,337.9 926.2,337.0 926.6,336.1C927.1,335.2 927.5,334.3 928.0,333.4C928.5,332.5 928.9,331.6 929.4,330.7C929.9,329.9 930.3,329.0 930.8,328.1C931.3,327.2 931.8,326.3 932.3,325.5C932.8,324.6 933.2,323.7 933.7,322.9C934.2,322.0 934.8,321.1 935.3,320.3C935.8,319.4 936.3,318.6 936.8,317.7C937.3,316.9 937.9,316.0 938.4,315.2C939.0,314.4 939.5,313.5 940.1,312.7C940.6,311.9 941.2,311.1 941.7,310.2C942.3,309.4 942.9,308.6 943.5,307.8C944.1,307.0 944.7,306.2 945.3,305.4C945.9,304.6 946.5,303.8 947.1,303.0C947.8,302.2 948.4,301.5 949.1,300.7C949.7,299.9 950.4,299.2 951.0,298.4C951.7,297.6 952.4,296.9 953.1,296.2C953.8,295.4 954.5,294.7 955.2,294.0C955.9,293.2 956.7,292.5 957.4,291.8C958.2,291.1 958.9,290.4 959.7,289.7C960.4,289.0 961.2,288.4 962.0,287.7C962.8,287.0 963.6,286.4 964.4,285.8C965.2,285.2 966.1,284.6 966.9,284.0C967.7,283.4 968.6,282.9 969.4,282.4C970.3,281.9 971.1,281.4 972.0,280.9C972.9,280.4 973.8,280.0 974.7,279.6C975.6,279.2 976.5,278.8 977.4,278.5C978.3,278.1 979.2,277.8 980.2,277.6C981.1,277.3 982.0,277.1 983.0,276.9C983.9,276.7 984.9,276.6 985.9,276.5C986.8,276.4 987.8,276.4 988.8,276.3C989.8,276.3 990.8,276.3 991.7,276.4C992.7,276.4 993.7,276.5 994.7,276.6C995.7,276.7 996.7,276.9 997.7,277.0C998.8,277.2 999.8,277.4 1000.8,277.6C1001.8,277.8 1002.8,278.0 1003.8,278.2C1004.8,278.5 1005.8,278.7 1006.8,279.0C1007.8,279.2 1008.8,279.5 1009.8,279.8C1010.8,280.0 1011.8,280.3 1012.8,280.6C1013.8,280.9 1014.8,281.2 1015.8,281.4C1016.7,281.7 1017.7,282.0 1018.7,282.3C1019.7,282.6 1020.6,282.9 1021.6,283.2C1022.6,283.5 1023.5,283.8 1024.5,284.1C1025.4,284.3 1026.4,284.6 1027.3,284.9C1028.3,285.2 1029.2,285.5 1030.2,285.8C1031.1,286.1 1032.1,286.5 1033.0,286.8C1034.0,287.1 1034.9,287.4 1035.9,287.7C1036.8,288.0 1037.7,288.3 1038.7,288.6C1039.6,289.0 1040.5,289.3 1041.5,289.6C1042.4,289.9 1043.4,290.2 1044.3,290.6C1045.2,290.9 1046.2,291.2 1047.1,291.6C1048.0,291.9 1049.0,292.2 1049.9,292.6C1050.9,292.9 1051.8,293.2 1052.7,293.6C1053.7,293.9 1054.6,294.3 1055.6,294.6C1056.5,295.0 1057.5,295.3 1058.4,295.7C1059.3,296.0 1060.3,296.4 1061.2,296.7C1062.2,297.1 1063.1,297.4 1064.1,297.8C1065.0,298.1 1066.0,298.4 1066.9,298.8C1067.9,299.1 1068.8,299.5 1069.8,299.8C1070.7,300.2 1071.7,300.5 1072.7,300.8C1073.6,301.2 1074.6,301.5 1075.5,301.8C1076.5,302.2 1077.4,302.5 1078.4,302.8C1079.4,303.2 1080.3,303.5 1081.3,303.8C1082.2,304.1 1083.2,304.4 1084.2,304.7C1085.1,305.0 1086.1,305.3 1087.1,305.6C1088.0,305.9 1089.0,306.2 1090.0,306.5C1090.9,306.8 1091.9,307.0 1092.9,307.3C1093.8,307.6 1094.8,307.9 1095.8,308.1C1096.7,308.4 1097.7,308.6 1098.7,308.9C1099.7,309.1 1100.6,309.4 1101.6,309.6C1102.6,309.9 1103.6,310.1 1104.6,310.3C1105.5,310.6 1106.5,310.8 1107.5,311.0C1108.5,311.2 1109.5,311.4 1110.4,311.6C1111.4,311.8 1112.4,312.1 1113.4,312.3C1114.4,312.5 1115.3,312.6 1116.3,312.8C1117.3,313.0 1118.3,313.2 1119.3,313.4C1120.3,313.6 1121.3,313.7 1122.3,313.9C1123.2,314.1 1124.2,314.2 1125.2,314.4C1126.2,314.6 1127.2,314.7 1128.2,314.9C1129.2,315.0 1130.2,315.2 1131.2,315.3C1132.2,315.4 1133.2,315.6 1134.1,315.7C1135.1,315.8 1136.1,316.0 1137.1,316.1C1138.1,316.2 1139.1,316.3 1140.1,316.4C1141.1,316.5 1142.1,316.6 1143.1,316.7C1144.1,316.8 1145.1,316.9 1146.1,317.0C1147.1,317.1 1148.1,317.2 1149.1,317.3C1150.1,317.4 1151.1,317.5 1152.1,317.5C1153.1,317.6 1154.1,317.7 1155.1,317.8C1156.1,317.8 1157.1,317.9 1158.1,317.9C1159.1,318.0 1160.1,318.1 1161.1,318.1C1162.1,318.2 1163.1,318.2 1164.1,318.2C1165.1,318.3 1166.1,318.3 1167.1,318.4C1168.1,318.4 1169.1,318.4 1170.1,318.5C1171.1,318.5 1172.2,318.5 1173.2,318.5C1174.2,318.6 1175.2,318.6 1176.2,318.6C1177.2,318.6 1178.2,318.6 1179.2,318.6C1180.2,318.7 1181.2,318.7 1182.2,318.7C1183.2,318.7 1184.2,318.7 1185.2,318.7C1186.2,318.7 1187.3,318.7 1188.3,318.7C1189.3,318.7 1190.3,318.7 1191.3,318.7C1192.3,318.7 1193.3,318.7 1194.3,318.7C1195.3,318.7 1196.3,318.7 1197.3,318.7C1198.3,318.7 1199.4,318.6 1200.4,318.6C1201.4,318.6 1202.4,318.6 1203.4,318.6C1204.4,318.6 1205.4,318.6 1206.4,318.6C1207.4,318.5 1208.4,318.5 1209.4,318.5C1210.4,318.5 1211.5,318.5 1212.5,318.5C1213.5,318.5 1214.5,318.4 1215.5,318.4C1216.5,318.4 1217.5,318.4 1218.5,318.4C1219.5,318.4 1220.5,318.3 1221.5,318.3C1222.5,318.3 1223.6,318.3 1224.6,318.3C1225.6,318.3 1226.6,318.3 1227.6,318.3C1228.6,318.2 1229.6,318.2 1230.6,318.2C1231.6,318.2 1232.6,318.2 1233.6,318.2C1234.6,318.2 1235.6,318.2 1236.6,318.2C1237.7,318.2 1238.7,318.2 1239.7,318.2C1240.7,318.2 1241.7,318.2 1242.7,318.2C1243.7,318.2 1244.7,318.2 1245.7,318.2C1246.7,318.2 1247.7,318.2 1248.7,318.2C1249.7,318.2 1250.7,318.2 1251.7,318.2C1252.7,318.2 1253.7,318.2 1254.7,318.3C1255.7,318.3 1256.7,318.3 1257.7,318.3C1258.7,318.3 1259.8,318.3 1260.8,318.3C1261.8,318.3 1262.8,318.3 1263.8,318.4C1264.8,318.4 1265.8,318.4 1266.8,318.4C1267.8,318.4 1268.8,318.4 1269.8,318.4C1270.8,318.4 1271.8,318.5 1272.8,318.5C1273.8,318.5 1274.8,318.5 1275.8,318.5C1276.8,318.5 1277.8,318.5 1278.8,318.5C1279.8,318.5 1280.8,318.6 1281.8,318.6C1282.8,318.6 1283.8,318.6 1284.8,318.6C1285.9,318.6 1286.9,318.6 1287.9,318.6C1288.9,318.6 1289.9,318.6 1290.9,318.6C1291.9,318.6 1292.9,318.7 1293.9,318.7C1294.9,318.7 1295.9,318.7 1296.9,318.7C1297.9,318.7 1298.9,318.7 1299.9,318.7C1300.9,318.7 1301.9,318.7 1302.9,318.7C1304.0,318.6 1305.0,318.6 1306.0,318.6C1307.0,318.6 1308.0,318.6 1309.0,318.6C1310.0,318.6 1311.0,318.6 1312.0,318.6C1313.0,318.5 1314.0,318.5 1315.0,318.5C1316.1,318.5 1317.1,318.5 1318.1,318.4C1319.1,318.4 1320.1,318.4 1321.1,318.4C1322.1,318.3 1323.1,318.3 1324.1,318.3" fill="none" stroke="#ff0000" stroke-width="4.7" stroke-linecap="round" stroke-linejoin="round"/>
<rect x="819.10" y="410.10" width="13.60" height="13.60" fill="none" stroke="#0000ff" stroke-width="3.2" stroke-linejoin="round"/>
<rect x="847.30" y="355.40" width="13.60" height="13.60" fill="none" stroke="#0000ff" stroke-width="3.2" stroke-linejoin="round"/>
<rect x="863.40" y="332.70" width="13.60" height="13.60" fill="none" stroke="#0000ff" stroke-width="3.2" stroke-linejoin="round"/>
<rect x="878.50" y="348.10" width="13.60" height="13.60" fill="none" stroke="#0000ff" stroke-width="3.2" stroke-linejoin="round"/>
<rect x="894.10" y="399.10" width="13.60" height="13.60" fill="none" stroke="#0000ff" stroke-width="3.2" stroke-linejoin="round"/>
<rect x="909.00" y="221.80" width="13.60" height="13.60" fill="none" stroke="#0000ff" stroke-width="3.2" stroke-linejoin="round"/>
<rect x="925.40" y="242.10" width="13.60" height="13.60" fill="none" stroke="#0000ff" stroke-width="3.2" stroke-linejoin="round"/>
<rect x="939.70" y="229.90" width="13.60" height="13.60" fill="none" stroke="#0000ff" stroke-width="3.2" stroke-linejoin="round"/>
<rect x="955.30" y="191.90" width="13.60" height="13.60" fill="none" stroke="#0000ff" stroke-width="3.2" stroke-linejoin="round"/>
<rect x="971.40" y="195.30" width="13.60" height="13.60" fill="none" stroke="#0000ff" stroke-width="3.2" stroke-linejoin="round"/>
<rect x="986.30" y="193.40" width="13.60" height="13.60" fill="none" stroke="#0000ff" stroke-width="3.2" stroke-linejoin="round"/>
<rect x="1002.10" y="231.30" width="13.60" height="13.60" fill="none" stroke="#0000ff" stroke-width="3.2" stroke-linejoin="round"/>
<rect x="1017.30" y="207.80" width="13.60" height="13.60" fill="none" stroke="#0000ff" stroke-width="3.2" stroke-linejoin="round"/>
<rect x="1032.50" y="209.10" width="13.60" height="13.60" fill="none" stroke="#0000ff" stroke-width="3.2" stroke-linejoin="round"/>
<rect x="1047.70" y="209.10" width="13.60" height="13.60" fill="none" stroke="#0000ff" stroke-width="3.2" stroke-linejoin="round"/>
<rect x="1063.60" y="194.60" width="13.60" height="13.60" fill="none" stroke="#0000ff" stroke-width="3.2" stroke-linejoin="round"/>
<rect x="1079.30" y="215.40" width="13.60" height="13.60" fill="none" stroke="#0000ff" stroke-width="3.2" stroke-linejoin="round"/>
<rect x="1100.10" y="202.70" width="13.60" height="13.60" fill="none" stroke="#0000ff" stroke-width="3.2" stroke-linejoin="round"/>
<rect x="1151.00" y="214.10" width="13.60" height="13.60" fill="none" stroke="#0000ff" stroke-width="3.2" stroke-linejoin="round"/>
<rect x="1183.70" y="219.70" width="13.60" height="13.60" fill="none" stroke="#0000ff" stroke-width="3.2" stroke-linejoin="round"/>
<rect x="1228.30" y="210.80" width="13.60" height="13.60" fill="none" stroke="#0000ff" stroke-width="3.2" stroke-linejoin="round"/>
<rect x="1279.50" y="212.90" width="13.60" height="13.60" fill="none" stroke="#0000ff" stroke-width="3.2" stroke-linejoin="round"/>
<circle cx="825.90" cy="416.90" r="6.80" fill="none" stroke="#ff0000" stroke-width="3.3"/>
<circle cx="854.10" cy="362.20" r="6.80" fill="none" stroke="#ff0000" stroke-width="3.3"/>
<circle cx="870.20" cy="340.10" r="6.80" fill="none" stroke="#ff0000" stroke-width="3.3"/>
<circle cx="885.30" cy="354.90" r="6.80" fill="none" stroke="#ff0000" stroke-width="3.3"/>
<circle cx="900.90" cy="347.10" r="6.80" fill="none" stroke="#ff0000" stroke-width="3.3"/>
<circle cx="915.80" cy="379.60" r="6.80" fill="none" stroke="#ff0000" stroke-width="3.3"/>
<circle cx="931.40" cy="388.70" r="6.80" fill="none" stroke="#ff0000" stroke-width="3.3"/>
<circle cx="946.50" cy="364.80" r="6.80" fill="none" stroke="#ff0000" stroke-width="3.3"/>
<circle cx="962.60" cy="298.40" r="6.80" fill="none" stroke="#ff0000" stroke-width="3.3"/>
<circle cx="978.20" cy="295.80" r="6.80" fill="none" stroke="#ff0000" stroke-width="3.3"/>
<circle cx="993.30" cy="316.10" r="6.80" fill="none" stroke="#ff0000" stroke-width="3.3"/>
<circle cx="1008.90" cy="311.40" r="6.80" fill="none" stroke="#ff0000" stroke-width="3.3"/>
<circle cx="1024.10" cy="334.20" r="6.80" fill="none" stroke="#ff0000" stroke-width="3.3"/>
<circle cx="1039.30" cy="296.20" r="6.80" fill="none" stroke="#ff0000" stroke-width="3.3"/>
<circle cx="1054.50" cy="329.90" r="6.80" fill="none" stroke="#ff0000" stroke-width="3.3"/>
<circle cx="1070.20" cy="301.50" r="6.80" fill="none" stroke="#ff0000" stroke-width="3.3"/>
<circle cx="1086.10" cy="310.90" r="6.80" fill="none" stroke="#ff0000" stroke-width="3.3"/>
<circle cx="1106.90" cy="309.10" r="6.80" fill="none" stroke="#ff0000" stroke-width="3.3"/>
<circle cx="1157.80" cy="326.60" r="6.80" fill="none" stroke="#ff0000" stroke-width="3.3"/>
<circle cx="1190.50" cy="331.90" r="6.80" fill="none" stroke="#ff0000" stroke-width="3.3"/>
<circle cx="1235.10" cy="341.30" r="6.80" fill="none" stroke="#ff0000" stroke-width="3.3"/>
<circle cx="1286.30" cy="310.10" r="6.80" fill="none" stroke="#ff0000" stroke-width="3.3"/>
<text transform="translate(740.60,341.22) rotate(-90)" font-size="30.5">Curvature (mm<tspan font-size="18.91" dy="-10.98">-1</tspan><tspan dy="10.98">)</tspan></text>
<text x="687.03" y="31.80" font-size="47" font-weight="bold" font-style="normal" fill="#000" >b</text>
<rect x="869.50" y="65.60" width="13.60" height="13.60" fill="none" stroke="#0000ff" stroke-width="3.2" stroke-linejoin="round"/>
<text x="895.29" y="82.80" font-size="30.5" font-weight="normal" font-style="normal" fill="#000" >Experiment</text>
<line x1="863.9" y1="115.6" x2="892.1" y2="115.6" stroke="#0000ff" stroke-width="4.5" stroke-linecap="round"/>
<text x="894.92" y="124.50" font-size="30.5" font-weight="normal" font-style="normal" fill="#000" >Simulation</text>
<text x="1172.45" y="126.10" font-size="35" font-weight="normal" font-style="italic" fill="#000" >δ</text>
<rect x="1199.20" y="111.20" width="19.10" height="1.80" fill="#000"/>
<rect x="1199.20" y="116.60" width="19.10" height="1.80" fill="#000"/>
<text x="1225.52" y="126.10" font-size="35" font-weight="normal" font-style="normal" fill="#000" >20</text>
<text x="1270.20" y="126.10" font-size="35" font-weight="normal" font-style="italic" fill="#000" >μ</text>
<text x="1288.42" y="126.10" font-size="35" font-weight="normal" font-style="normal" fill="#000" >m</text>
<text transform="translate(1161.41,185.90) scale(0.92,1.0)" font-size="35" font-weight="normal" font-style="normal" fill="#000">Δ</text>
<text x="1182.92" y="185.90" font-size="35" font-weight="normal" font-style="italic" fill="#000" >T</text>
<rect x="1215.70" y="170.85" width="21.30" height="2.10" fill="#000"/>
<rect x="1215.70" y="178.95" width="21.30" height="2.10" fill="#000"/>
<text x="1244.72" y="185.90" font-size="35" font-weight="normal" font-style="normal" fill="#000" >3</text>
<circle cx="1276.30" cy="169.70" r="3.4" fill="none" stroke="#000" stroke-width="1.4"/>
<text x="1280.80" y="185.90" font-size="35" font-weight="normal" font-style="normal" fill="#000" >C</text>
<text x="1086.45" y="368.50" font-size="35" font-weight="normal" font-style="italic" fill="#000" >δ</text>
<rect x="1113.10" y="353.60" width="19.10" height="1.80" fill="#000"/>
<rect x="1113.10" y="359.00" width="19.10" height="1.80" fill="#000"/>
<text x="1140.33" y="368.50" font-size="35" font-weight="normal" font-style="normal" fill="#000" >35</text>
<text x="1184.70" y="368.50" font-size="35" font-weight="normal" font-style="italic" fill="#000" >μ</text>
<text x="1203.22" y="368.50" font-size="35" font-weight="normal" font-style="normal" fill="#000" >m</text>
<text transform="translate(1075.81,418.10) scale(0.92,1.0)" font-size="35" font-weight="normal" font-style="normal" fill="#000">Δ</text>
<text x="1097.32" y="418.10" font-size="35" font-weight="normal" font-style="italic" fill="#000" >T</text>
<rect x="1130.10" y="403.05" width="21.30" height="2.10" fill="#000"/>
<rect x="1130.10" y="411.15" width="21.30" height="2.10" fill="#000"/>
<text x="1159.02" y="418.10" font-size="35" font-weight="normal" font-style="normal" fill="#000" >3.5</text>
<circle cx="1217.10" cy="401.90" r="3.4" fill="none" stroke="#000" stroke-width="1.4"/>
<text x="1220.80" y="418.10" font-size="35" font-weight="normal" font-style="normal" fill="#000" >C</text>
<rect x="117.00" y="595.90" width="1.25" height="390.10" fill="#aeaaaa"/>
<rect x="117.00" y="985.00" width="506.80" height="1.0" fill="#aeaaaa"/>
<text x="76.08" y="994.50" font-size="32" font-weight="normal" font-style="normal" fill="#000" >0</text>
<text x="51.28" y="916.74" font-size="32" font-weight="normal" font-style="normal" fill="#000" >0.4</text>
<text x="52.08" y="838.98" font-size="32" font-weight="normal" font-style="normal" fill="#000" >0.8</text>
<text x="52.56" y="761.22" font-size="32" font-weight="normal" font-style="normal" fill="#000" >1.2</text>
<text x="51.76" y="683.46" font-size="32" font-weight="normal" font-style="normal" fill="#000" >1.6</text>
<text x="76.56" y="605.70" font-size="32" font-weight="normal" font-style="normal" fill="#000" >2</text>
<text x="109.90" y="1031.20" font-size="32" font-weight="normal" font-style="normal" fill="#000" >0</text>
<text x="172.71" y="1031.20" font-size="32" font-weight="normal" font-style="normal" fill="#000" >1</text>
<text x="236.49" y="1031.20" font-size="32" font-weight="normal" font-style="normal" fill="#000" >2</text>
<text x="299.46" y="1031.20" font-size="32" font-weight="normal" font-style="normal" fill="#000" >3</text>
<text x="362.67" y="1031.20" font-size="32" font-weight="normal" font-style="normal" fill="#000" >4</text>
<text x="425.64" y="1031.20" font-size="32" font-weight="normal" font-style="normal" fill="#000" >5</text>
<text x="489.02" y="1031.20" font-size="32" font-weight="normal" font-style="normal" fill="#000" >6</text>
<text x="551.83" y="1031.20" font-size="32" font-weight="normal" font-style="normal" fill="#000" >7</text>
<text x="615.60" y="1031.20" font-size="32" font-weight="normal" font-style="normal" fill="#000" >8</text>
<text x="269.79" y="1068.70" font-size="30.5" font-weight="normal" font-style="normal" fill="#000" >Time (Hours)</text>
<text transform="translate(29.80,901.42) rotate(-90)" font-size="30.5">Curvature (mm<tspan font-size="18.91" dy="-10.98">-1</tspan><tspan dy="10.98">)</tspan></text>
<text transform="translate(-0.95,588.60) scale(1.0,1.1)" font-size="47" font-weight="bold" font-style="normal" fill="#000">c</text>
<path d="M118.36,984.10C119.3,984.0 120.2,984.0 121.1,983.9C122.0,983.9 123.0,983.8 123.9,983.7C124.9,983.7 125.9,983.6 126.8,983.5C127.8,983.5 128.8,983.4 129.8,983.3C130.9,983.2 131.9,983.1 132.9,983.0C133.9,982.9 135.0,982.8 136.0,982.7C137.0,982.6 138.1,982.4 139.1,982.3C140.1,982.1 141.2,982.0 142.2,981.8C143.2,981.6 144.2,981.4 145.3,981.2C146.3,981.0 147.3,980.7 148.3,980.5C149.3,980.2 150.3,979.9 151.2,979.6C152.2,979.3 153.2,979.0 154.1,978.6C155.1,978.2 156.0,977.9 156.9,977.4C157.8,977.0 158.7,976.6 159.6,976.1C160.4,975.6 161.3,975.1 162.1,974.5C162.9,974.0 163.7,973.4 164.5,972.8C165.2,972.2 166.0,971.6 166.7,970.9C167.4,970.3 168.2,969.6 168.8,968.9C169.5,968.2 170.2,967.5 170.8,966.8C171.5,966.0 172.1,965.2 172.7,964.5C173.4,963.7 174.0,962.9 174.5,962.1C175.1,961.3 175.7,960.4 176.2,959.6C176.8,958.8 177.3,957.9 177.8,957.0C178.3,956.2 178.8,955.3 179.3,954.4C179.8,953.5 180.3,952.6 180.7,951.8C181.2,950.9 181.6,950.0 182.1,949.0C182.5,948.1 182.9,947.2 183.3,946.3C183.7,945.4 184.1,944.5 184.5,943.5C184.9,942.6 185.3,941.7 185.7,940.7C186.0,939.8 186.4,938.8 186.8,937.9C187.1,937.0 187.5,936.0 187.8,935.1C188.1,934.1 188.5,933.1 188.8,932.2C189.1,931.2 189.4,930.3 189.7,929.3C190.0,928.3 190.4,927.4 190.7,926.4C191.0,925.4 191.3,924.5 191.6,923.5C191.9,922.5 192.1,921.5 192.4,920.6C192.7,919.6 193.0,918.6 193.3,917.7C193.6,916.7 193.9,915.7 194.1,914.7C194.4,913.8 194.7,912.8 195.0,911.8C195.3,910.9 195.6,909.9 195.9,908.9C196.1,907.9 196.4,907.0 196.7,906.0C197.0,905.0 197.3,904.1 197.6,903.1C197.8,902.1 198.1,901.2 198.4,900.2C198.7,899.2 199.0,898.3 199.2,897.3C199.5,896.3 199.8,895.4 200.1,894.4C200.4,893.4 200.6,892.5 200.9,891.5C201.2,890.5 201.5,889.6 201.7,888.6C202.0,887.6 202.3,886.7 202.6,885.7C202.8,884.7 203.1,883.8 203.4,882.8C203.7,881.8 203.9,880.9 204.2,879.9C204.5,878.9 204.7,878.0 205.0,877.0C205.3,876.0 205.5,875.1 205.8,874.1C206.1,873.1 206.3,872.2 206.6,871.2C206.8,870.2 207.1,869.3 207.3,868.3C207.6,867.3 207.9,866.3 208.1,865.4C208.4,864.4 208.6,863.4 208.9,862.5C209.1,861.5 209.4,860.5 209.6,859.5C209.9,858.6 210.1,857.6 210.3,856.6C210.6,855.6 210.8,854.7 211.1,853.7C211.3,852.7 211.6,851.7 211.8,850.7C212.0,849.8 212.3,848.8 212.5,847.8C212.8,846.8 213.0,845.8 213.2,844.9C213.5,843.9 213.7,842.9 214.0,841.9C214.2,841.0 214.4,840.0 214.7,839.0C214.9,838.0 215.2,837.0 215.4,836.1C215.6,835.1 215.9,834.1 216.1,833.1C216.4,832.1 216.6,831.2 216.8,830.2C217.1,829.2 217.3,828.2 217.6,827.2C217.8,826.3 218.0,825.3 218.3,824.3C218.5,823.3 218.8,822.3 219.0,821.4C219.3,820.4 219.5,819.4 219.8,818.4C220.0,817.5 220.3,816.5 220.5,815.5C220.8,814.5 221.0,813.6 221.3,812.6C221.6,811.6 221.8,810.6 222.1,809.7C222.3,808.7 222.6,807.7 222.9,806.7C223.1,805.8 223.4,804.8 223.7,803.8C223.9,802.9 224.2,801.9 224.5,800.9C224.8,799.9 225.1,799.0 225.3,798.0C225.6,797.0 225.9,796.1 226.2,795.1C226.5,794.2 226.8,793.2 227.1,792.2C227.4,791.3 227.7,790.3 228.0,789.3C228.3,788.4 228.6,787.4 228.9,786.5C229.2,785.5 229.5,784.6 229.8,783.6C230.1,782.6 230.5,781.7 230.8,780.7C231.1,779.8 231.4,778.8 231.8,777.9C232.1,776.9 232.4,776.0 232.8,775.0C233.1,774.1 233.5,773.2 233.8,772.2C234.2,771.3 234.5,770.3 234.9,769.4C235.3,768.5 235.6,767.5 236.0,766.6C236.4,765.6 236.7,764.7 237.1,763.8C237.4,762.8 237.8,761.9 238.2,761.0C238.5,760.0 238.9,759.1 239.2,758.1C239.5,757.2 239.9,756.2 240.2,755.3C240.5,754.3 240.8,753.4 241.1,752.4C241.4,751.4 241.6,750.5 241.9,749.5C242.2,748.5 242.4,747.6 242.7,746.6C242.9,745.6 243.2,744.6 243.4,743.7C243.7,742.7 243.9,741.7 244.1,740.7C244.4,739.8 244.6,738.8 244.8,737.8C245.1,736.8 245.3,735.8 245.5,734.9C245.8,733.9 246.0,732.9 246.2,731.9C246.5,731.0 246.7,730.0 247.0,729.0C247.2,728.0 247.5,727.1 247.7,726.1C248.0,725.1 248.3,724.1 248.6,723.2C248.8,722.2 249.1,721.2 249.4,720.3C249.7,719.3 250.0,718.3 250.3,717.4C250.6,716.4 250.9,715.5 251.2,714.5C251.5,713.5 251.9,712.6 252.2,711.6C252.5,710.7 252.9,709.7 253.2,708.8C253.5,707.8 253.9,706.9 254.2,705.9C254.6,705.0 254.9,704.0 255.3,703.1C255.6,702.1 256.0,701.2 256.4,700.3C256.7,699.3 257.1,698.4 257.5,697.4C257.9,696.5 258.2,695.6 258.6,694.6C259.0,693.7 259.4,692.8 259.8,691.8C260.2,690.9 260.6,690.0 261.0,689.1C261.4,688.1 261.8,687.2 262.2,686.3C262.6,685.3 263.0,684.4 263.4,683.5C263.8,682.6 264.2,681.7 264.6,680.7C265.0,679.8 265.4,678.9 265.8,678.0C266.2,677.1 266.7,676.2 267.1,675.2C267.5,674.3 267.9,673.4 268.4,672.5C268.8,671.6 269.2,670.7 269.7,669.8C270.1,668.9 270.6,668.0 271.0,667.1C271.5,666.2 271.9,665.3 272.4,664.5C272.8,663.6 273.3,662.7 273.8,661.8C274.3,660.9 274.8,660.1 275.3,659.2C275.8,658.3 276.3,657.5 276.8,656.6C277.3,655.7 277.8,654.9 278.3,654.0C278.9,653.2 279.4,652.4 280.0,651.5C280.5,650.7 281.1,649.8 281.7,649.0C282.2,648.2 282.8,647.4 283.4,646.6C284.0,645.7 284.6,644.9 285.2,644.1C285.9,643.3 286.5,642.5 287.1,641.7C287.8,641.0 288.4,640.2 289.1,639.4C289.8,638.6 290.5,637.9 291.2,637.1C291.9,636.3 292.6,635.6 293.3,634.9C294.0,634.1 294.8,633.4 295.6,632.7C296.3,632.0 297.1,631.3 297.9,630.7C298.6,630.0 299.4,629.4 300.3,628.7C301.1,628.1 301.9,627.6 302.7,627.0C303.6,626.5 304.4,625.9 305.3,625.4C306.2,625.0 307.0,624.5 307.9,624.1C308.8,623.7 309.7,623.3 310.6,623.0C311.5,622.7 312.5,622.4 313.4,622.2C314.4,622.0 315.3,621.8 316.3,621.6C317.2,621.5 318.2,621.4 319.1,621.4C320.1,621.3 321.1,621.3 322.1,621.3C323.0,621.3 324.0,621.4 325.0,621.5C326.0,621.6 327.0,621.7 327.9,621.9C328.9,622.1 329.9,622.3 330.8,622.6C331.8,622.8 332.8,623.1 333.7,623.4C334.7,623.7 335.6,624.0 336.6,624.4C337.5,624.7 338.5,625.1 339.4,625.5C340.4,625.9 341.3,626.3 342.3,626.7C343.2,627.1 344.1,627.6 345.1,628.0C346.0,628.5 346.9,628.9 347.8,629.4C348.8,629.8 349.7,630.3 350.6,630.7C351.5,631.2 352.4,631.7 353.3,632.1C354.3,632.6 355.2,633.0 356.1,633.5C357.0,633.9 357.9,634.3 358.8,634.8C359.7,635.2 360.6,635.6 361.5,636.1C362.4,636.5 363.3,636.9 364.3,637.3C365.2,637.7 366.1,638.2 367.0,638.6C367.9,639.0 368.8,639.4 369.7,639.7C370.7,640.1 371.6,640.5 372.5,640.9C373.4,641.3 374.3,641.7 375.3,642.0C376.2,642.4 377.1,642.8 378.1,643.2C379.0,643.5 380.0,643.9 380.9,644.2C381.8,644.6 382.8,644.9 383.7,645.2C384.7,645.6 385.6,645.9 386.6,646.2C387.6,646.6 388.5,646.9 389.5,647.2C390.4,647.5 391.4,647.8 392.4,648.1C393.3,648.4 394.3,648.7 395.3,649.0C396.2,649.2 397.2,649.5 398.2,649.8C399.2,650.0 400.1,650.3 401.1,650.5C402.1,650.8 403.1,651.0 404.1,651.3C405.0,651.5 406.0,651.7 407.0,651.9C408.0,652.1 409.0,652.3 410.0,652.5C411.0,652.7 411.9,652.9 412.9,653.1C413.9,653.3 414.9,653.4 415.9,653.6C416.9,653.7 417.9,653.9 418.9,654.0C419.9,654.2 420.9,654.3 421.9,654.4C422.9,654.5 423.9,654.6 424.9,654.7C425.9,654.8 426.9,654.9 427.9,655.0C428.9,655.1 429.9,655.2 430.9,655.2C431.9,655.3 432.9,655.4 433.9,655.4C434.9,655.5 435.9,655.5 436.9,655.6C437.9,655.6 438.9,655.7 439.9,655.7C440.9,655.7 441.9,655.8 443.0,655.8C444.0,655.8 445.0,655.8 446.0,655.8C447.0,655.9 448.0,655.9 449.0,655.9C450.0,655.9 451.0,655.9 452.0,655.9C453.0,655.9 454.0,655.9 455.0,655.9C456.1,655.9 457.1,655.9 458.1,655.9C459.1,655.9 460.1,655.9 461.1,655.9C462.1,655.9 463.1,655.9 464.1,655.9C465.1,655.9 466.1,655.9 467.2,655.9C468.2,655.9 469.2,655.9 470.2,655.9C471.2,655.9 472.2,655.9 473.2,655.9C474.2,655.9 475.2,655.9 476.2,655.9C477.2,655.9 478.2,655.9 479.3,655.9C480.3,655.9 481.3,655.9 482.3,655.9C483.3,655.9 484.3,655.9 485.3,655.9C486.3,655.9 487.3,655.9 488.3,655.9C489.3,655.9 490.3,655.9 491.3,655.9C492.3,655.9 493.4,655.9 494.4,655.9C495.4,655.9 496.4,655.9 497.4,655.9C498.4,655.9 499.4,655.9 500.4,655.9C501.4,655.9 502.4,655.9 503.4,655.9C504.4,655.9 505.4,655.9 506.4,655.9C507.5,655.9 508.5,655.9 509.5,655.9C510.5,655.9 511.5,655.9 512.5,655.9C513.5,655.9 514.5,655.9 515.5,655.9C516.5,655.9 517.5,655.9 518.5,655.9C519.5,655.9 520.5,655.9 521.6,655.9C522.6,655.9 523.6,655.9 524.6,655.9C525.6,655.9 526.6,655.9 527.6,655.9C528.6,655.9 529.6,655.9 530.6,655.9C531.6,655.9 532.6,655.9 533.6,655.9C534.6,655.9 535.7,655.9 536.7,655.9C537.7,655.9 538.7,655.9 539.7,655.9C540.7,655.9 541.7,655.9 542.7,655.9C543.7,655.9 544.7,655.9 545.7,655.9C546.7,655.9 547.7,655.9 548.8,655.9C549.8,655.9 550.8,655.9 551.8,655.9C552.8,655.9 553.8,655.9 554.8,655.9C555.8,655.9 556.8,655.9 557.8,655.9C558.8,655.9 559.8,655.9 560.8,655.9C561.9,655.9 562.9,655.9 563.9,655.9C564.9,655.9 565.9,655.9 566.9,655.9C567.9,655.9 568.9,655.9 569.9,655.9C570.9,655.9 571.9,655.9 572.9,655.9C573.9,655.9 575.0,655.9 576.0,655.9C577.0,655.9 578.0,655.9 579.0,655.9C580.0,655.9 581.0,655.9 582.0,655.9C583.0,655.9 584.0,655.9 585.0,655.9C586.0,655.9 587.0,655.9 588.1,655.9C589.1,655.9 590.1,655.9 591.1,655.9C592.1,655.9 593.1,655.9 594.1,655.9C595.1,655.9 596.1,655.9 597.1,655.9C598.1,655.9 599.1,655.9 600.1,655.9C601.2,655.9 602.2,655.9 603.2,655.9C604.2,655.9 605.2,655.9 606.2,655.9C607.2,655.9 608.2,655.9 609.2,655.9C610.2,655.9 611.2,655.9 612.2,655.9C613.2,655.9 614.2,655.9 615.3,655.9C616.3,655.9 617.3,655.9 618.3,655.9C619.3,655.9 620.3,655.9 621.3,655.9" fill="none" stroke="#0000ff" stroke-width="4.7" stroke-linecap="round" stroke-linejoin="round" stroke-dasharray="13.9 17.7" stroke-dashoffset="29.43"/>
<path d="M118.21,984.05C119.2,984.0 120.1,984.0 121.1,983.9C122.1,983.9 123.0,983.8 124.0,983.8C125.0,983.7 126.0,983.7 127.0,983.6C128.0,983.5 129.0,983.5 130.0,983.4C131.0,983.3 132.0,983.2 133.0,983.1C134.0,983.0 135.0,982.9 136.0,982.8C137.1,982.6 138.1,982.5 139.1,982.3C140.1,982.2 141.1,982.0 142.1,981.8C143.1,981.6 144.1,981.4 145.1,981.2C146.1,981.0 147.1,980.7 148.1,980.5C149.1,980.2 150.0,979.9 151.0,979.6C152.0,979.3 152.9,978.9 153.9,978.6C154.8,978.2 155.7,977.8 156.7,977.4C157.6,977.0 158.5,976.5 159.3,976.1C160.2,975.6 161.1,975.1 161.9,974.6C162.8,974.0 163.6,973.5 164.4,972.9C165.2,972.3 165.9,971.6 166.7,971.0C167.4,970.3 168.1,969.6 168.8,968.9C169.5,968.2 170.2,967.5 170.9,966.7C171.5,966.0 172.1,965.2 172.8,964.5C173.4,963.7 174.0,962.9 174.6,962.1C175.1,961.3 175.7,960.5 176.2,959.7C176.8,958.8 177.3,958.0 177.8,957.2C178.3,956.3 178.8,955.5 179.3,954.6C179.8,953.7 180.3,952.9 180.7,952.0C181.2,951.1 181.6,950.2 182.1,949.3C182.5,948.4 182.9,947.5 183.3,946.6C183.7,945.7 184.1,944.8 184.5,943.8C184.9,942.9 185.3,942.0 185.6,941.0C186.0,940.1 186.3,939.1 186.7,938.2C187.0,937.2 187.4,936.3 187.7,935.3C188.0,934.4 188.3,933.4 188.7,932.4C189.0,931.5 189.3,930.5 189.6,929.5C189.9,928.6 190.2,927.6 190.5,926.6C190.8,925.6 191.1,924.6 191.4,923.7C191.7,922.7 191.9,921.7 192.2,920.7C192.5,919.7 192.8,918.7 193.1,917.8C193.3,916.8 193.6,915.8 193.9,914.8C194.2,913.8 194.4,912.8 194.7,911.9C195.0,910.9 195.3,909.9 195.6,908.9C195.8,908.0 196.1,907.0 196.4,906.0C196.7,905.0 197.0,904.1 197.3,903.1C197.5,902.2 197.8,901.2 198.1,900.2C198.4,899.3 198.7,898.3 199.0,897.4C199.3,896.4 199.6,895.5 199.9,894.6C200.3,893.6 200.6,892.7 200.9,891.7C201.2,890.8 201.5,889.8 201.8,888.9C202.1,888.0 202.4,887.0 202.7,886.1C203.0,885.2 203.3,884.2 203.6,883.3C204.0,882.3 204.3,881.4 204.6,880.5C204.9,879.5 205.2,878.6 205.5,877.6C205.8,876.7 206.1,875.7 206.3,874.8C206.6,873.8 206.9,872.9 207.2,871.9C207.5,871.0 207.8,870.0 208.0,869.0C208.3,868.1 208.6,867.1 208.9,866.1C209.1,865.1 209.4,864.2 209.6,863.2C209.9,862.2 210.1,861.2 210.4,860.2C210.6,859.2 210.9,858.2 211.1,857.2C211.4,856.2 211.6,855.2 211.9,854.2C212.1,853.2 212.4,852.2 212.6,851.2C212.9,850.2 213.2,849.2 213.5,848.3C213.8,847.3 214.1,846.3 214.4,845.3C214.7,844.4 215.0,843.4 215.4,842.4C215.8,841.5 216.1,840.5 216.5,839.6C216.9,838.7 217.3,837.8 217.8,836.9C218.2,836.0 218.7,835.1 219.2,834.2C219.7,833.3 220.2,832.5 220.8,831.6C221.4,830.8 222.0,830.0 222.6,829.2C223.2,828.4 223.9,827.6 224.6,826.9C225.2,826.2 225.9,825.5 226.7,824.8C227.4,824.2 228.2,823.6 229.0,823.0C229.8,822.5 230.6,822.0 231.5,821.6C232.3,821.1 233.2,820.7 234.1,820.4C235.0,820.1 235.9,819.8 236.9,819.6C237.8,819.4 238.8,819.2 239.7,819.1C240.7,818.9 241.7,818.9 242.7,818.8C243.7,818.7 244.7,818.7 245.7,818.7C246.7,818.7 247.7,818.7 248.7,818.8C249.7,818.8 250.7,818.9 251.7,818.9C252.7,819.0 253.7,819.1 254.7,819.2C255.7,819.3 256.7,819.4 257.7,819.6C258.7,819.7 259.7,819.8 260.6,820.0C261.6,820.1 262.6,820.3 263.6,820.5C264.6,820.6 265.6,820.8 266.6,821.0C267.6,821.2 268.6,821.4 269.6,821.6C270.6,821.8 271.6,822.0 272.5,822.2C273.5,822.4 274.5,822.6 275.5,822.8C276.5,823.0 277.5,823.2 278.5,823.4C279.5,823.7 280.4,823.9 281.4,824.1C282.4,824.3 283.4,824.5 284.4,824.7C285.4,824.9 286.4,825.1 287.4,825.3C288.4,825.5 289.4,825.7 290.3,825.9C291.3,826.1 292.3,826.3 293.3,826.5C294.3,826.7 295.3,826.9 296.3,827.1C297.3,827.3 298.3,827.5 299.3,827.6C300.3,827.8 301.2,828.0 302.2,828.2C303.2,828.4 304.2,828.5 305.2,828.7C306.2,828.9 307.2,829.0 308.2,829.2C309.2,829.4 310.2,829.5 311.2,829.7C312.2,829.8 313.2,830.0 314.2,830.2C315.1,830.3 316.1,830.5 317.1,830.6C318.1,830.8 319.1,830.9 320.1,831.1C321.1,831.2 322.1,831.4 323.1,831.5C324.1,831.6 325.1,831.8 326.1,831.9C327.1,832.1 328.1,832.2 329.1,832.3C330.1,832.5 331.1,832.6 332.1,832.7C333.1,832.8 334.1,833.0 335.1,833.1C336.1,833.2 337.0,833.3 338.0,833.4C339.0,833.6 340.0,833.7 341.0,833.8C342.0,833.9 343.0,834.0 344.0,834.1C345.0,834.2 346.0,834.4 347.0,834.5C348.0,834.6 349.0,834.7 350.0,834.8C351.0,834.9 352.0,835.0 353.0,835.1C354.0,835.2 355.0,835.3 356.0,835.4C357.0,835.5 358.0,835.5 359.0,835.6C360.0,835.7 361.0,835.8 362.0,835.9C363.0,836.0 364.0,836.1 365.0,836.2C366.0,836.2 367.0,836.3 368.0,836.4C369.0,836.5 370.0,836.6 371.0,836.6C372.0,836.7 373.0,836.8 374.0,836.9C375.0,836.9 376.0,837.0 377.0,837.1C378.0,837.1 379.0,837.2 380.0,837.3C381.0,837.3 382.0,837.4 383.0,837.5C384.0,837.5 385.0,837.6 386.0,837.6C387.0,837.7 388.0,837.8 389.0,837.8C390.0,837.9 391.0,837.9 392.1,838.0C393.1,838.0 394.1,838.1 395.1,838.1C396.1,838.2 397.1,838.2 398.1,838.3C399.1,838.3 400.1,838.4 401.1,838.4C402.1,838.5 403.1,838.5 404.1,838.5C405.1,838.6 406.1,838.6 407.1,838.7C408.1,838.7 409.1,838.7 410.1,838.8C411.1,838.8 412.1,838.8 413.1,838.9C414.1,838.9 415.1,838.9 416.1,839.0C417.1,839.0 418.1,839.0 419.2,839.1C420.2,839.1 421.2,839.1 422.2,839.1C423.2,839.2 424.2,839.2 425.2,839.2C426.2,839.2 427.2,839.3 428.2,839.3C429.2,839.3 430.2,839.3 431.2,839.3C432.2,839.4 433.2,839.4 434.2,839.4C435.2,839.4 436.2,839.4 437.2,839.5C438.3,839.5 439.3,839.5 440.3,839.5C441.3,839.5 442.3,839.5 443.3,839.5C444.3,839.6 445.3,839.6 446.3,839.6C447.3,839.6 448.3,839.6 449.3,839.6C450.3,839.6 451.3,839.6 452.3,839.6C453.3,839.6 454.3,839.6 455.4,839.6C456.4,839.7 457.4,839.7 458.4,839.7C459.4,839.7 460.4,839.7 461.4,839.7C462.4,839.7 463.4,839.7 464.4,839.7C465.4,839.7 466.4,839.7 467.4,839.7C468.4,839.7 469.4,839.7 470.5,839.7C471.5,839.7 472.5,839.7 473.5,839.7C474.5,839.7 475.5,839.7 476.5,839.7C477.5,839.7 478.5,839.7 479.5,839.7C480.5,839.7 481.5,839.7 482.5,839.7C483.5,839.6 484.5,839.6 485.6,839.6C486.6,839.6 487.6,839.6 488.6,839.6C489.6,839.6 490.6,839.6 491.6,839.6C492.6,839.6 493.6,839.6 494.6,839.6C495.6,839.6 496.6,839.6 497.6,839.6C498.6,839.5 499.6,839.5 500.7,839.5C501.7,839.5 502.7,839.5 503.7,839.5C504.7,839.5 505.7,839.5 506.7,839.5C507.7,839.5 508.7,839.5 509.7,839.5C510.7,839.4 511.7,839.4 512.7,839.4C513.7,839.4 514.7,839.4 515.8,839.4C516.8,839.4 517.8,839.4 518.8,839.4C519.8,839.4 520.8,839.4 521.8,839.3C522.8,839.3 523.8,839.3 524.8,839.3C525.8,839.3 526.8,839.3 527.8,839.3C528.8,839.3 529.8,839.3 530.9,839.3C531.9,839.3 532.9,839.2 533.9,839.2C534.9,839.2 535.9,839.2 536.9,839.2C537.9,839.2 538.9,839.2 539.9,839.2C540.9,839.2 541.9,839.2 542.9,839.2C543.9,839.2 544.9,839.2 545.9,839.2C546.9,839.1 548.0,839.1 549.0,839.1C550.0,839.1 551.0,839.1 552.0,839.1C553.0,839.1 554.0,839.1 555.0,839.1C556.0,839.1 557.0,839.1 558.0,839.1C559.0,839.1 560.0,839.1 561.0,839.1C562.0,839.1 563.0,839.1 564.0,839.1C565.0,839.1 566.0,839.1 567.1,839.1C568.1,839.1 569.1,839.1 570.1,839.1C571.1,839.1 572.1,839.1 573.1,839.1C574.1,839.1 575.1,839.1 576.1,839.1C577.1,839.1 578.1,839.1 579.1,839.1C580.1,839.1 581.1,839.2 582.1,839.2C583.1,839.2 584.1,839.2 585.1,839.2C586.1,839.2 587.1,839.2 588.1,839.2C589.1,839.2 590.1,839.2 591.1,839.3C592.2,839.3 593.2,839.3 594.2,839.3C595.2,839.3 596.2,839.3 597.2,839.3C598.2,839.4 599.2,839.4 600.2,839.4C601.2,839.4 602.2,839.4 603.2,839.5C604.2,839.5 605.2,839.5 606.2,839.5C607.2,839.5 608.2,839.6 609.2,839.6C610.2,839.6 611.2,839.7 612.2,839.7C613.2,839.7 614.2,839.7 615.2,839.8C616.2,839.8 617.2,839.8 618.2,839.9C619.2,839.9 620.2,839.9 621.2,840.0" fill="none" stroke="#0000ff" stroke-width="4.7" stroke-linecap="round" stroke-linejoin="round" stroke-dasharray="13.9 17.7" stroke-dashoffset="27.51"/>
<path d="M118.11,983.89C119.0,983.9 120.0,983.9 120.9,983.8C121.9,983.8 122.9,983.8 123.8,983.8C124.8,983.7 125.8,983.7 126.8,983.6C127.8,983.6 128.9,983.5 129.9,983.4C130.9,983.4 131.9,983.3 133.0,983.2C134.0,983.1 135.0,983.0 136.0,982.9C137.1,982.7 138.1,982.6 139.1,982.4C140.2,982.3 141.2,982.1 142.2,981.9C143.2,981.7 144.2,981.4 145.2,981.2C146.2,980.9 147.2,980.7 148.2,980.4C149.1,980.1 150.1,979.8 151.0,979.4C152.0,979.0 152.9,978.7 153.8,978.3C154.7,977.8 155.6,977.4 156.5,976.9C157.3,976.5 158.2,976.0 159.0,975.4C159.8,974.9 160.6,974.3 161.4,973.7C162.2,973.1 162.9,972.5 163.7,971.9C164.4,971.3 165.1,970.6 165.8,969.9C166.5,969.2 167.2,968.5 167.9,967.8C168.5,967.0 169.2,966.3 169.8,965.5C170.4,964.8 171.0,964.0 171.6,963.2C172.2,962.4 172.8,961.6 173.3,960.7C173.9,959.9 174.4,959.1 174.9,958.2C175.4,957.4 175.9,956.5 176.4,955.6C176.9,954.7 177.4,953.9 177.8,953.0C178.3,952.1 178.7,951.2 179.1,950.3C179.6,949.4 180.0,948.4 180.4,947.5C180.8,946.6 181.2,945.7 181.5,944.7C181.9,943.8 182.3,942.9 182.6,941.9C183.0,941.0 183.3,940.0 183.7,939.1C184.0,938.1 184.4,937.1 184.7,936.2C185.0,935.2 185.3,934.2 185.6,933.3C186.0,932.3 186.3,931.3 186.6,930.4C186.9,929.4 187.2,928.4 187.5,927.4C187.8,926.5 188.1,925.5 188.4,924.5C188.6,923.5 188.9,922.6 189.2,921.6C189.5,920.6 189.8,919.6 190.1,918.7C190.4,917.7 190.7,916.7 191.0,915.8C191.3,914.8 191.6,913.8 191.9,912.9C192.2,911.9 192.5,910.9 192.8,910.0C193.0,909.0 193.3,908.0 193.6,907.1C193.9,906.1 194.2,905.2 194.5,904.2C194.8,903.3 195.1,902.3 195.4,901.3C195.7,900.4 196.0,899.4 196.3,898.5C196.6,897.5 196.9,896.6 197.2,895.6C197.5,894.6 197.8,893.7 198.0,892.7C198.3,891.8 198.6,890.8 198.9,889.9C199.2,888.9 199.5,887.9 199.8,887.0C200.0,886.0 200.3,885.1 200.6,884.1C200.9,883.1 201.2,882.2 201.4,881.2C201.7,880.3 202.0,879.3 202.2,878.3C202.5,877.4 202.8,876.4 203.0,875.4C203.3,874.5 203.6,873.5 203.8,872.5C204.1,871.6 204.3,870.6 204.6,869.6C204.8,868.7 205.1,867.7 205.3,866.7C205.6,865.7 205.8,864.8 206.1,863.8C206.3,862.8 206.6,861.8 206.8,860.9C207.1,859.9 207.3,858.9 207.5,857.9C207.8,856.9 208.0,856.0 208.3,855.0C208.5,854.0 208.7,853.0 209.0,852.0C209.2,851.1 209.4,850.1 209.7,849.1C209.9,848.1 210.1,847.1 210.4,846.2C210.6,845.2 210.8,844.2 211.1,843.2C211.3,842.2 211.5,841.2 211.8,840.3C212.0,839.3 212.2,838.3 212.5,837.3C212.7,836.3 212.9,835.3 213.2,834.4C213.4,833.4 213.6,832.4 213.9,831.4C214.1,830.4 214.3,829.4 214.6,828.5C214.8,827.5 215.0,826.5 215.3,825.5C215.5,824.5 215.8,823.6 216.0,822.6C216.2,821.6 216.5,820.6 216.7,819.6C217.0,818.7 217.2,817.7 217.5,816.7C217.7,815.7 218.0,814.8 218.2,813.8C218.5,812.8 218.7,811.8 219.0,810.9C219.3,809.9 219.5,808.9 219.8,807.9C220.0,807.0 220.3,806.0 220.6,805.0C220.8,804.1 221.1,803.1 221.4,802.1C221.7,801.2 221.9,800.2 222.2,799.2C222.5,798.3 222.8,797.3 223.1,796.4C223.4,795.4 223.6,794.4 223.9,793.5C224.2,792.5 224.5,791.6 224.8,790.6C225.1,789.7 225.4,788.7 225.8,787.8C226.1,786.8 226.4,785.9 226.7,784.9C227.0,784.0 227.4,783.0 227.7,782.1C228.0,781.1 228.3,780.2 228.7,779.3C229.0,778.3 229.4,777.4 229.7,776.4C230.1,775.5 230.5,774.6 230.8,773.7C231.2,772.7 231.6,771.8 232.0,770.9C232.3,770.0 232.7,769.0 233.1,768.1C233.5,767.2 233.9,766.3 234.4,765.4C234.8,764.5 235.2,763.5 235.6,762.6C236.1,761.7 236.5,760.8 237.0,759.9C237.4,759.0 237.9,758.1 238.4,757.2C238.9,756.3 239.3,755.4 239.8,754.6C240.3,753.7 240.9,752.8 241.4,751.9C241.9,751.0 242.4,750.1 243.0,749.3C243.5,748.4 244.1,747.5 244.7,746.6C245.2,745.8 245.8,744.9 246.4,744.1C247.0,743.2 247.6,742.4 248.2,741.5C248.9,740.7 249.5,739.9 250.2,739.1C250.8,738.3 251.5,737.5 252.2,736.7C252.8,735.9 253.5,735.2 254.2,734.5C255.0,733.8 255.7,733.1 256.4,732.4C257.2,731.8 257.9,731.1 258.7,730.5C259.5,729.9 260.2,729.4 261.0,728.8C261.8,728.3 262.7,727.8 263.5,727.4C264.3,727.0 265.2,726.6 266.0,726.2C266.9,725.9 267.8,725.6 268.7,725.3C269.6,725.1 270.5,724.9 271.4,724.7C272.4,724.6 273.3,724.5 274.3,724.4C275.2,724.4 276.2,724.4 277.2,724.4C278.1,724.4 279.1,724.5 280.1,724.5C281.1,724.6 282.1,724.8 283.1,724.9C284.1,725.1 285.1,725.3 286.1,725.5C287.1,725.7 288.1,726.0 289.0,726.2C290.0,726.5 291.0,726.8 292.0,727.1C293.0,727.4 294.0,727.7 294.9,728.0C295.9,728.4 296.9,728.7 297.9,729.1C298.8,729.4 299.8,729.8 300.8,730.1C301.7,730.5 302.7,730.8 303.7,731.2C304.6,731.6 305.6,731.9 306.6,732.3C307.5,732.6 308.5,732.9 309.5,733.3C310.4,733.6 311.4,733.9 312.4,734.2C313.3,734.5 314.3,734.8 315.3,735.1C316.2,735.4 317.2,735.6 318.2,735.9C319.1,736.2 320.1,736.5 321.0,736.7C322.0,737.0 323.0,737.2 323.9,737.5C324.9,737.7 325.9,738.0 326.9,738.2C327.8,738.4 328.8,738.7 329.8,738.9C330.7,739.1 331.7,739.3 332.7,739.6C333.6,739.8 334.6,740.0 335.6,740.2C336.6,740.4 337.5,740.7 338.5,740.9C339.5,741.1 340.5,741.3 341.4,741.5C342.4,741.7 343.4,741.9 344.4,742.1C345.3,742.4 346.3,742.6 347.3,742.8C348.3,743.0 349.3,743.2 350.2,743.4C351.2,743.6 352.2,743.8 353.2,744.1C354.2,744.3 355.2,744.5 356.2,744.7C357.1,744.9 358.1,745.1 359.1,745.3C360.1,745.5 361.1,745.7 362.1,745.9C363.1,746.1 364.1,746.3 365.1,746.5C366.0,746.7 367.0,746.9 368.0,747.1C369.0,747.3 370.0,747.5 371.0,747.6C372.0,747.8 373.0,748.0 374.0,748.2C375.0,748.3 376.0,748.5 377.0,748.7C378.0,748.9 379.0,749.0 380.0,749.2C381.0,749.3 382.0,749.5 383.0,749.6C384.0,749.8 385.0,749.9 386.0,750.1C387.0,750.2 388.0,750.3 389.0,750.5C390.0,750.6 391.0,750.7 392.0,750.8C393.0,750.9 394.0,751.1 395.0,751.2C396.0,751.3 397.0,751.4 398.0,751.5C399.0,751.6 400.0,751.6 401.0,751.7C402.0,751.8 403.0,751.9 404.0,752.0C405.0,752.0 406.0,752.1 407.0,752.2C408.0,752.2 409.0,752.3 410.0,752.4C411.0,752.4 412.0,752.5 413.0,752.5C414.0,752.6 415.0,752.6 416.0,752.7C417.0,752.7 418.0,752.8 419.0,752.8C420.0,752.8 421.0,752.9 422.1,752.9C423.1,753.0 424.1,753.0 425.1,753.0C426.1,753.0 427.1,753.1 428.1,753.1C429.1,753.1 430.1,753.2 431.1,753.2C432.1,753.2 433.1,753.2 434.1,753.3C435.1,753.3 436.1,753.3 437.1,753.3C438.1,753.4 439.1,753.4 440.1,753.4C441.1,753.4 442.2,753.4 443.2,753.5C444.2,753.5 445.2,753.5 446.2,753.5C447.2,753.5 448.2,753.5 449.2,753.6C450.2,753.6 451.2,753.6 452.2,753.6C453.2,753.6 454.2,753.6 455.2,753.6C456.2,753.7 457.2,753.7 458.2,753.7C459.2,753.7 460.3,753.7 461.3,753.7C462.3,753.7 463.3,753.7 464.3,753.7C465.3,753.7 466.3,753.7 467.3,753.8C468.3,753.8 469.3,753.8 470.3,753.8C471.3,753.8 472.3,753.8 473.3,753.8C474.3,753.8 475.3,753.8 476.4,753.8C477.4,753.8 478.4,753.8 479.4,753.8C480.4,753.8 481.4,753.8 482.4,753.8C483.4,753.8 484.4,753.8 485.4,753.8C486.4,753.8 487.4,753.8 488.4,753.8C489.4,753.8 490.4,753.8 491.4,753.8C492.5,753.8 493.5,753.8 494.5,753.8C495.5,753.8 496.5,753.8 497.5,753.8C498.5,753.8 499.5,753.8 500.5,753.8C501.5,753.8 502.5,753.8 503.5,753.8C504.5,753.8 505.5,753.8 506.5,753.8C507.6,753.8 508.6,753.8 509.6,753.8C510.6,753.8 511.6,753.8 512.6,753.8C513.6,753.8 514.6,753.8 515.6,753.8C516.6,753.7 517.6,753.7 518.6,753.7C519.6,753.7 520.6,753.7 521.6,753.7C522.7,753.7 523.7,753.7 524.7,753.7C525.7,753.7 526.7,753.7 527.7,753.7C528.7,753.7 529.7,753.7 530.7,753.7C531.7,753.7 532.7,753.7 533.7,753.6C534.7,753.6 535.7,753.6 536.7,753.6C537.8,753.6 538.8,753.6 539.8,753.6C540.8,753.6 541.8,753.6 542.8,753.6C543.8,753.6 544.8,753.6 545.8,753.6C546.8,753.6 547.8,753.6 548.8,753.6C549.8,753.6 550.8,753.5 551.8,753.5C552.9,753.5 553.9,753.5 554.9,753.5C555.9,753.5 556.9,753.5 557.9,753.5C558.9,753.5 559.9,753.5 560.9,753.5C561.9,753.5 562.9,753.5 563.9,753.5C564.9,753.5 565.9,753.5 566.9,753.5C568.0,753.5 569.0,753.5 570.0,753.5C571.0,753.5 572.0,753.5 573.0,753.5C574.0,753.5 575.0,753.5 576.0,753.5C577.0,753.5 578.0,753.5 579.0,753.5C580.0,753.5 581.0,753.5 582.0,753.5C583.0,753.5 584.1,753.5 585.1,753.5C586.1,753.5 587.1,753.5 588.1,753.5C589.1,753.5 590.1,753.5 591.1,753.5C592.1,753.5 593.1,753.5 594.1,753.5C595.1,753.5 596.1,753.5 597.1,753.5C598.1,753.5 599.1,753.5 600.1,753.5C601.2,753.5 602.2,753.5 603.2,753.6C604.2,753.6 605.2,753.6 606.2,753.6C607.2,753.6 608.2,753.6 609.2,753.6C610.2,753.6 611.2,753.6 612.2,753.6C613.2,753.7 614.2,753.7 615.2,753.7C616.2,753.7 617.2,753.7 618.2,753.7C619.3,753.7 620.3,753.8 621.3,753.8" fill="none" stroke="#0000ff" stroke-width="4.7" stroke-linecap="round" stroke-linejoin="round"/>
<circle cx="119.20" cy="978.20" r="6.4" fill="#000" fill-opacity="0.75"/>
<circle cx="148.20" cy="922.10" r="6.4" fill="#000" fill-opacity="0.75"/>
<circle cx="163.90" cy="898.70" r="6.4" fill="#000" fill-opacity="0.75"/>
<circle cx="179.80" cy="913.70" r="6.4" fill="#000" fill-opacity="0.75"/>
<circle cx="195.70" cy="965.60" r="6.4" fill="#000" fill-opacity="0.75"/>
<circle cx="210.40" cy="786.50" r="6.4" fill="#000" fill-opacity="0.75"/>
<circle cx="226.70" cy="806.60" r="6.4" fill="#000" fill-opacity="0.75"/>
<circle cx="242.10" cy="793.20" r="6.4" fill="#000" fill-opacity="0.75"/>
<circle cx="257.50" cy="755.70" r="6.4" fill="#000" fill-opacity="0.75"/>
<circle cx="272.80" cy="758.10" r="6.4" fill="#000" fill-opacity="0.75"/>
<circle cx="288.80" cy="756.70" r="6.4" fill="#000" fill-opacity="0.75"/>
<circle cx="303.80" cy="795.00" r="6.4" fill="#000" fill-opacity="0.75"/>
<circle cx="319.50" cy="770.00" r="6.4" fill="#000" fill-opacity="0.75"/>
<circle cx="335.60" cy="772.70" r="6.4" fill="#000" fill-opacity="0.75"/>
<circle cx="351.60" cy="772.70" r="6.4" fill="#000" fill-opacity="0.75"/>
<circle cx="366.10" cy="758.70" r="6.4" fill="#000" fill-opacity="0.75"/>
<circle cx="382.20" cy="779.40" r="6.4" fill="#000" fill-opacity="0.75"/>
<circle cx="402.70" cy="766.90" r="6.4" fill="#000" fill-opacity="0.75"/>
<circle cx="454.80" cy="778.20" r="6.4" fill="#000" fill-opacity="0.75"/>
<circle cx="487.80" cy="783.90" r="6.4" fill="#000" fill-opacity="0.75"/>
<circle cx="532.30" cy="774.40" r="6.4" fill="#000" fill-opacity="0.75"/>
<circle cx="584.50" cy="776.10" r="6.4" fill="#000" fill-opacity="0.75"/>
<circle cx="119.90" cy="957.50" r="6.4" fill="#548235" fill-opacity="0.9"/>
<circle cx="148.20" cy="951.40" r="6.4" fill="#548235" fill-opacity="0.9"/>
<circle cx="163.90" cy="934.60" r="6.4" fill="#548235" fill-opacity="0.9"/>
<circle cx="179.80" cy="980.70" r="6.4" fill="#548235" fill-opacity="0.9"/>
<circle cx="195.70" cy="957.20" r="6.4" fill="#548235" fill-opacity="0.9"/>
<circle cx="210.80" cy="895.30" r="6.4" fill="#548235" fill-opacity="0.9"/>
<circle cx="226.80" cy="786.00" r="6.4" fill="#548235" fill-opacity="0.9"/>
<circle cx="242.60" cy="695.30" r="6.4" fill="#548235" fill-opacity="0.9"/>
<circle cx="256.90" cy="691.70" r="6.4" fill="#548235" fill-opacity="0.9"/>
<circle cx="273.20" cy="676.90" r="6.4" fill="#548235" fill-opacity="0.9"/>
<circle cx="289.20" cy="646.90" r="6.4" fill="#548235" fill-opacity="0.9"/>
<circle cx="303.50" cy="666.10" r="6.4" fill="#548235" fill-opacity="0.9"/>
<circle cx="319.50" cy="643.20" r="6.4" fill="#548235" fill-opacity="0.9"/>
<circle cx="335.60" cy="652.40" r="6.4" fill="#548235" fill-opacity="0.9"/>
<circle cx="351.60" cy="684.10" r="6.4" fill="#548235" fill-opacity="0.9"/>
<circle cx="366.00" cy="685.10" r="6.4" fill="#548235" fill-opacity="0.9"/>
<circle cx="382.20" cy="687.20" r="6.4" fill="#548235" fill-opacity="0.9"/>
<circle cx="402.70" cy="649.90" r="6.4" fill="#548235" fill-opacity="0.9"/>
<circle cx="454.80" cy="667.10" r="6.4" fill="#548235" fill-opacity="0.9"/>
<circle cx="487.90" cy="667.10" r="6.4" fill="#548235" fill-opacity="0.9"/>
<circle cx="532.00" cy="670.40" r="6.4" fill="#548235" fill-opacity="0.9"/>
<circle cx="584.50" cy="663.60" r="6.4" fill="#548235" fill-opacity="0.9"/>
<path d="M112.40,977.20L126.00,990.80M112.40,990.80L126.00,977.20" stroke="#00b050" stroke-width="2.6" fill="none"/>
<path d="M141.40,938.70L155.00,952.30M141.40,952.30L155.00,938.70" stroke="#00b050" stroke-width="2.6" fill="none"/>
<path d="M157.10,960.50L170.70,974.10M157.10,974.10L170.70,960.50" stroke="#00b050" stroke-width="2.6" fill="none"/>
<path d="M173.00,968.80L186.60,982.40M173.00,982.40L186.60,968.80" stroke="#00b050" stroke-width="2.6" fill="none"/>
<path d="M189.90,967.20L203.50,980.80M189.90,980.80L203.50,967.20" stroke="#00b050" stroke-width="2.6" fill="none"/>
<path d="M205.30,873.50L218.90,887.10M205.30,887.10L218.90,873.50" stroke="#00b050" stroke-width="2.6" fill="none"/>
<path d="M220.40,742.70L234.00,756.30M220.40,756.30L234.00,742.70" stroke="#00b050" stroke-width="2.6" fill="none"/>
<path d="M236.00,762.80L249.60,776.40M236.00,776.40L249.60,762.80" stroke="#00b050" stroke-width="2.6" fill="none"/>
<path d="M252.30,740.30L265.90,753.90M252.30,753.90L265.90,740.30" stroke="#00b050" stroke-width="2.6" fill="none"/>
<path d="M268.70,778.50L282.30,792.10M268.70,792.10L282.30,778.50" stroke="#00b050" stroke-width="2.6" fill="none"/>
<path d="M283.40,762.80L297.00,776.40M283.40,776.40L297.00,762.80" stroke="#00b050" stroke-width="2.6" fill="none"/>
<path d="M299.60,789.90L313.20,803.50M299.60,803.50L313.20,789.90" stroke="#00b050" stroke-width="2.6" fill="none"/>
<path d="M315.10,764.80L328.70,778.40M315.10,778.40L328.70,764.80" stroke="#00b050" stroke-width="2.6" fill="none"/>
<path d="M329.40,758.70L343.00,772.30M329.40,772.30L343.00,758.70" stroke="#00b050" stroke-width="2.6" fill="none"/>
<path d="M347.60,776.90L361.20,790.50M347.60,790.50L361.20,776.90" stroke="#00b050" stroke-width="2.6" fill="none"/>
<path d="M363.60,785.80L377.20,799.40M363.60,799.40L377.20,785.80" stroke="#00b050" stroke-width="2.6" fill="none"/>
<path d="M379.90,758.70L393.50,772.30M379.90,772.30L393.50,758.70" stroke="#00b050" stroke-width="2.6" fill="none"/>
<path d="M399.60,774.80L413.20,788.40M399.60,788.40L413.20,774.80" stroke="#00b050" stroke-width="2.6" fill="none"/>
<path d="M452.90,765.20L466.50,778.80M452.90,778.80L466.50,765.20" stroke="#00b050" stroke-width="2.6" fill="none"/>
<path d="M486.20,745.80L499.80,759.40M486.20,759.40L499.80,745.80" stroke="#00b050" stroke-width="2.6" fill="none"/>
<path d="M531.70,775.50L545.30,789.10M531.70,789.10L545.30,775.50" stroke="#00b050" stroke-width="2.6" fill="none"/>
<path d="M585.20,755.00L598.80,768.60M585.20,768.60L598.80,755.00" stroke="#00b050" stroke-width="2.6" fill="none"/>
<path d="M112.30,965.40L126.10,979.20M112.30,979.20L126.10,965.40M119.20,965.25L119.20,979.35" stroke="#ed7d31" stroke-width="2.8" fill="none"/>
<path d="M141.30,917.70L155.10,931.50M141.30,931.50L155.10,917.70M148.20,917.55L148.20,931.65" stroke="#ed7d31" stroke-width="2.8" fill="none"/>
<path d="M157.00,908.50L170.80,922.30M157.00,922.30L170.80,908.50M163.90,908.35L163.90,922.45" stroke="#ed7d31" stroke-width="2.8" fill="none"/>
<path d="M174.60,937.80L188.40,951.60M174.60,951.60L188.40,937.80M181.50,937.65L181.50,951.75" stroke="#ed7d31" stroke-width="2.8" fill="none"/>
<path d="M189.80,869.20L203.60,883.00M189.80,883.00L203.60,869.20M196.70,869.05L196.70,883.15" stroke="#ed7d31" stroke-width="2.8" fill="none"/>
<path d="M205.90,815.10L219.70,828.90M205.90,828.90L219.70,815.10M212.80,814.95L212.80,829.05" stroke="#ed7d31" stroke-width="2.8" fill="none"/>
<path d="M222.00,767.20L235.80,781.00M222.00,781.00L235.80,767.20M228.90,767.05L228.90,781.15" stroke="#ed7d31" stroke-width="2.8" fill="none"/>
<path d="M238.30,741.20L252.10,755.00M238.30,755.00L252.10,741.20M245.20,741.05L245.20,755.15" stroke="#ed7d31" stroke-width="2.8" fill="none"/>
<path d="M254.10,759.00L267.90,772.80M254.10,772.80L267.90,759.00M261.00,758.85L261.00,772.95" stroke="#ed7d31" stroke-width="2.8" fill="none"/>
<path d="M269.80,778.00L283.60,791.80M269.80,791.80L283.60,778.00M276.70,777.85L276.70,791.95" stroke="#ed7d31" stroke-width="2.8" fill="none"/>
<path d="M286.80,746.10L300.60,759.90M286.80,759.90L300.60,746.10M293.70,745.95L293.70,760.05" stroke="#ed7d31" stroke-width="2.8" fill="none"/>
<path d="M302.80,732.00L316.60,745.80M302.80,745.80L316.60,732.00M309.70,731.85L309.70,745.95" stroke="#ed7d31" stroke-width="2.8" fill="none"/>
<path d="M318.50,737.90L332.30,751.70M318.50,751.70L332.30,737.90M325.40,737.75L325.40,751.85" stroke="#ed7d31" stroke-width="2.8" fill="none"/>
<path d="M334.50,750.80L348.30,764.60M334.50,764.60L348.30,750.80M341.40,750.65L341.40,764.75" stroke="#ed7d31" stroke-width="2.8" fill="none"/>
<path d="M350.60,791.60L364.40,805.40M350.60,805.40L364.40,791.60M357.50,791.45L357.50,805.55" stroke="#ed7d31" stroke-width="2.8" fill="none"/>
<path d="M366.90,745.70L380.70,759.50M366.90,759.50L380.70,745.70M373.80,745.55L373.80,759.65" stroke="#ed7d31" stroke-width="2.8" fill="none"/>
<path d="M382.50,754.50L396.30,768.30M382.50,768.30L396.30,754.50M389.40,754.35L389.40,768.45" stroke="#ed7d31" stroke-width="2.8" fill="none"/>
<path d="M403.90,745.30L417.70,759.10M403.90,759.10L417.70,745.30M410.80,745.15L410.80,759.25" stroke="#ed7d31" stroke-width="2.8" fill="none"/>
<path d="M457.40,778.70L471.20,792.50M457.40,792.50L471.20,778.70M464.30,778.55L464.30,792.65" stroke="#ed7d31" stroke-width="2.8" fill="none"/>
<path d="M491.80,762.90L505.60,776.70M491.80,776.70L505.60,762.90M498.70,762.75L498.70,776.85" stroke="#ed7d31" stroke-width="2.8" fill="none"/>
<path d="M538.10,734.90L551.90,748.70M538.10,748.70L551.90,734.90M545.00,734.75L545.00,748.85" stroke="#ed7d31" stroke-width="2.8" fill="none"/>
<path d="M591.90,787.60L605.70,801.40M591.90,801.40L605.70,787.60M598.80,787.45L598.80,801.55" stroke="#ed7d31" stroke-width="2.8" fill="none"/>
<circle cx="119.20" cy="964.00" r="6.60" fill="none" stroke="#000" stroke-width="1.4"/>
<circle cx="148.20" cy="892.00" r="6.60" fill="none" stroke="#000" stroke-width="1.4"/>
<circle cx="163.90" cy="904.50" r="6.60" fill="none" stroke="#000" stroke-width="1.4"/>
<circle cx="179.80" cy="922.90" r="6.60" fill="none" stroke="#000" stroke-width="1.4"/>
<circle cx="195.70" cy="923.80" r="6.60" fill="none" stroke="#000" stroke-width="1.4"/>
<circle cx="211.60" cy="900.30" r="6.60" fill="none" stroke="#000" stroke-width="1.4"/>
<circle cx="228.90" cy="789.40" r="6.60" fill="none" stroke="#000" stroke-width="1.4"/>
<circle cx="244.60" cy="736.20" r="6.60" fill="none" stroke="#000" stroke-width="1.4"/>
<circle cx="260.20" cy="712.70" r="6.60" fill="none" stroke="#000" stroke-width="1.4"/>
<circle cx="276.30" cy="729.50" r="6.60" fill="none" stroke="#000" stroke-width="1.4"/>
<circle cx="292.30" cy="721.30" r="6.60" fill="none" stroke="#000" stroke-width="1.4"/>
<circle cx="308.60" cy="729.50" r="6.60" fill="none" stroke="#000" stroke-width="1.4"/>
<circle cx="324.40" cy="735.80" r="6.60" fill="none" stroke="#000" stroke-width="1.4"/>
<circle cx="339.90" cy="778.20" r="6.60" fill="none" stroke="#000" stroke-width="1.4"/>
<circle cx="357.20" cy="809.70" r="6.60" fill="none" stroke="#000" stroke-width="1.4"/>
<circle cx="373.10" cy="802.10" r="6.60" fill="none" stroke="#000" stroke-width="1.4"/>
<circle cx="388.90" cy="827.50" r="6.60" fill="none" stroke="#000" stroke-width="1.4"/>
<circle cx="410.60" cy="763.50" r="6.60" fill="none" stroke="#000" stroke-width="1.4"/>
<circle cx="464.00" cy="761.40" r="6.60" fill="none" stroke="#000" stroke-width="1.4"/>
<circle cx="498.00" cy="797.60" r="6.60" fill="none" stroke="#000" stroke-width="1.4"/>
<circle cx="545.00" cy="770.00" r="6.60" fill="none" stroke="#000" stroke-width="1.4"/>
<circle cx="598.20" cy="737.30" r="6.60" fill="none" stroke="#000" stroke-width="1.4"/>
<circle cx="118.40" cy="962.30" r="7.30" fill="none" stroke="#c55a11" stroke-width="2.1"/>
<circle cx="148.20" cy="965.60" r="7.30" fill="none" stroke="#c55a11" stroke-width="2.1"/>
<circle cx="164.90" cy="978.20" r="7.30" fill="none" stroke="#c55a11" stroke-width="2.1"/>
<circle cx="182.00" cy="955.60" r="7.30" fill="none" stroke="#c55a11" stroke-width="2.1"/>
<circle cx="197.90" cy="972.60" r="7.30" fill="none" stroke="#c55a11" stroke-width="2.1"/>
<circle cx="213.90" cy="742.00" r="7.30" fill="none" stroke="#c55a11" stroke-width="2.1"/>
<circle cx="230.90" cy="688.60" r="7.30" fill="none" stroke="#c55a11" stroke-width="2.1"/>
<circle cx="246.90" cy="715.80" r="7.30" fill="none" stroke="#c55a11" stroke-width="2.1"/>
<circle cx="262.60" cy="687.80" r="7.30" fill="none" stroke="#c55a11" stroke-width="2.1"/>
<circle cx="280.00" cy="685.10" r="7.30" fill="none" stroke="#c55a11" stroke-width="2.1"/>
<circle cx="295.70" cy="687.60" r="7.30" fill="none" stroke="#c55a11" stroke-width="2.1"/>
<circle cx="311.70" cy="693.30" r="7.30" fill="none" stroke="#c55a11" stroke-width="2.1"/>
<circle cx="328.70" cy="677.50" r="7.30" fill="none" stroke="#c55a11" stroke-width="2.1"/>
<circle cx="344.80" cy="670.40" r="7.30" fill="none" stroke="#c55a11" stroke-width="2.1"/>
<circle cx="361.80" cy="685.10" r="7.30" fill="none" stroke="#c55a11" stroke-width="2.1"/>
<circle cx="377.50" cy="672.80" r="7.30" fill="none" stroke="#c55a11" stroke-width="2.1"/>
<circle cx="393.50" cy="688.60" r="7.30" fill="none" stroke="#c55a11" stroke-width="2.1"/>
<circle cx="414.90" cy="677.30" r="7.30" fill="none" stroke="#c55a11" stroke-width="2.1"/>
<circle cx="469.60" cy="670.20" r="7.30" fill="none" stroke="#c55a11" stroke-width="2.1"/>
<circle cx="505.00" cy="683.10" r="7.30" fill="none" stroke="#c55a11" stroke-width="2.1"/>
<circle cx="551.50" cy="680.60" r="7.30" fill="none" stroke="#c55a11" stroke-width="2.1"/>
<circle cx="606.00" cy="694.30" r="7.30" fill="none" stroke="#c55a11" stroke-width="2.1"/>
<circle cx="254.30" cy="915.00" r="6.60" fill="none" stroke="#000" stroke-width="1.4"/>
<text x="273.78" y="925.60" font-size="30.5" font-weight="normal" font-style="normal" fill="#000" >Experiment</text>
<line x1="242.3" y1="964.1" x2="269.6" y2="964.1" stroke="#0000ff" stroke-width="4.5" stroke-linecap="round"/>
<text x="273.32" y="973.30" font-size="30.5" font-weight="normal" font-style="normal" fill="#000" >Simulation</text>
<text transform="translate(461.91,633.00) scale(0.92,1.0)" font-size="35" font-weight="normal" font-style="normal" fill="#000">Δ</text>
<text x="483.43" y="633.00" font-size="35" font-weight="normal" font-style="italic" fill="#000" >T</text>
<rect x="516.20" y="617.95" width="21.30" height="2.10" fill="#000"/>
<rect x="516.20" y="626.05" width="21.30" height="2.10" fill="#000"/>
<text x="544.70" y="633.00" font-size="35" font-weight="normal" font-style="normal" fill="#000" >5</text>
<circle cx="576.80" cy="616.80" r="3.4" fill="none" stroke="#000" stroke-width="1.4"/>
<text x="581.30" y="633.00" font-size="35" font-weight="normal" font-style="normal" fill="#000" >C</text>
<text transform="translate(430.61,892.20) scale(0.92,1.0)" font-size="35" font-weight="normal" font-style="normal" fill="#000">Δ</text>
<text x="452.12" y="892.20" font-size="35" font-weight="normal" font-style="italic" fill="#000" >T</text>
<rect x="484.90" y="877.15" width="21.30" height="2.10" fill="#000"/>
<rect x="484.90" y="885.25" width="21.30" height="2.10" fill="#000"/>
<text x="514.82" y="892.20" font-size="35" font-weight="normal" font-style="normal" fill="#000" >1.75</text>
<circle cx="587.80" cy="876.00" r="3.4" fill="none" stroke="#000" stroke-width="1.4"/>
<text x="592.60" y="892.20" font-size="35" font-weight="normal" font-style="normal" fill="#000" >C</text>
<rect x="814.00" y="608.00" width="1.1" height="377.60" fill="#aeaaaa"/>
<rect x="814.00" y="984.50" width="492.80" height="1.1" fill="#aeaaaa"/>
<text x="774.68" y="994.60" font-size="32" font-weight="normal" font-style="normal" fill="#000" >0</text>
<text x="750.68" y="900.40" font-size="32" font-weight="normal" font-style="normal" fill="#000" >0.3</text>
<text x="750.36" y="806.20" font-size="32" font-weight="normal" font-style="normal" fill="#000" >0.6</text>
<text x="750.68" y="712.00" font-size="32" font-weight="normal" font-style="normal" fill="#000" >0.9</text>
<text x="751.16" y="617.80" font-size="32" font-weight="normal" font-style="normal" fill="#000" >1.2</text>
<text x="806.50" y="1031.20" font-size="32" font-weight="normal" font-style="normal" fill="#000" >0</text>
<text x="867.61" y="1031.20" font-size="32" font-weight="normal" font-style="normal" fill="#000" >1</text>
<text x="929.68" y="1031.20" font-size="32" font-weight="normal" font-style="normal" fill="#000" >2</text>
<text x="990.96" y="1031.20" font-size="32" font-weight="normal" font-style="normal" fill="#000" >3</text>
<text x="1052.47" y="1031.20" font-size="32" font-weight="normal" font-style="normal" fill="#000" >4</text>
<text x="1113.74" y="1031.20" font-size="32" font-weight="normal" font-style="normal" fill="#000" >5</text>
<text x="1175.41" y="1031.20" font-size="32" font-weight="normal" font-style="normal" fill="#000" >6</text>
<text x="1236.53" y="1031.20" font-size="32" font-weight="normal" font-style="normal" fill="#000" >7</text>
<text x="1298.60" y="1031.20" font-size="32" font-weight="normal" font-style="normal" fill="#000" >8</text>
<text x="973.59" y="1067.60" font-size="30.5" font-weight="normal" font-style="normal" fill="#000" >Time (Hours)</text>
<text transform="translate(732.00,897.32) rotate(-90)" font-size="30.5">Curvature (mm<tspan font-size="18.91" dy="-10.98">-1</tspan><tspan dy="10.98">)</tspan></text>
<text x="685.72" y="588.50" font-size="47" font-weight="bold" font-style="normal" fill="#000" >d</text>
<path d="M814.88,984.69C815.8,984.6 816.7,984.5 817.6,984.5C818.6,984.4 819.5,984.4 820.5,984.3C821.5,984.2 822.4,984.2 823.4,984.2C824.4,984.1 825.4,984.1 826.4,984.0C827.4,984.0 828.4,983.9 829.5,983.9C830.5,983.8 831.5,983.8 832.5,983.7C833.6,983.6 834.6,983.6 835.6,983.5C836.6,983.4 837.7,983.3 838.7,983.3C839.7,983.2 840.8,983.0 841.8,982.9C842.8,982.8 843.8,982.7 844.9,982.5C845.9,982.3 846.9,982.2 847.9,982.0C848.9,981.8 849.9,981.6 850.9,981.3C851.8,981.1 852.8,980.9 853.8,980.6C854.7,980.3 855.7,980.0 856.6,979.6C857.5,979.3 858.5,978.9 859.4,978.5C860.3,978.1 861.1,977.7 862.0,977.2C862.9,976.8 863.7,976.3 864.5,975.8C865.4,975.2 866.2,974.7 867.0,974.1C867.8,973.5 868.5,972.9 869.3,972.3C870.0,971.7 870.8,971.0 871.5,970.3C872.2,969.7 872.9,969.0 873.6,968.3C874.3,967.5 875.0,966.8 875.6,966.0C876.3,965.3 876.9,964.5 877.5,963.7C878.2,962.9 878.8,962.1 879.4,961.3C880.0,960.5 880.5,959.6 881.1,958.8C881.6,957.9 882.2,957.1 882.7,956.2C883.2,955.3 883.7,954.5 884.2,953.6C884.7,952.7 885.2,951.8 885.7,950.9C886.1,950.0 886.6,949.1 887.0,948.2C887.4,947.2 887.9,946.3 888.3,945.4C888.7,944.5 889.1,943.6 889.5,942.6C889.8,941.7 890.2,940.8 890.6,939.8C890.9,938.9 891.3,938.0 891.6,937.0C892.0,936.1 892.3,935.1 892.6,934.2C892.9,933.2 893.3,932.3 893.6,931.3C893.9,930.4 894.2,929.4 894.5,928.5C894.8,927.5 895.1,926.6 895.4,925.6C895.7,924.6 896.0,923.7 896.3,922.7C896.6,921.8 896.9,920.8 897.2,919.9C897.5,918.9 897.8,917.9 898.0,917.0C898.3,916.0 898.6,915.1 898.9,914.1C899.2,913.1 899.5,912.2 899.8,911.2C900.1,910.3 900.5,909.3 900.8,908.4C901.1,907.4 901.4,906.5 901.7,905.5C902.1,904.6 902.4,903.6 902.7,902.7C903.1,901.7 903.4,900.8 903.8,899.8C904.1,898.9 904.5,897.9 904.9,897.0C905.2,896.1 905.6,895.1 905.9,894.2C906.3,893.2 906.7,892.3 907.0,891.4C907.4,890.4 907.7,889.5 908.1,888.5C908.4,887.6 908.8,886.7 909.1,885.7C909.5,884.8 909.8,883.8 910.1,882.9C910.5,881.9 910.8,881.0 911.1,880.0C911.4,879.1 911.7,878.1 912.0,877.1C912.3,876.2 912.6,875.2 912.9,874.3C913.2,873.3 913.5,872.4 913.8,871.4C914.1,870.4 914.4,869.5 914.7,868.5C914.9,867.5 915.2,866.6 915.5,865.6C915.8,864.6 916.0,863.7 916.3,862.7C916.6,861.7 916.9,860.8 917.1,859.8C917.4,858.8 917.7,857.9 917.9,856.9C918.2,855.9 918.5,855.0 918.8,854.0C919.0,853.0 919.3,852.1 919.6,851.1C919.8,850.1 920.1,849.2 920.4,848.2C920.6,847.2 920.9,846.3 921.2,845.3C921.5,844.3 921.7,843.4 922.0,842.4C922.3,841.4 922.5,840.5 922.8,839.5C923.1,838.5 923.3,837.5 923.6,836.6C923.9,835.6 924.2,834.6 924.4,833.7C924.7,832.7 925.0,831.7 925.2,830.8C925.5,829.8 925.8,828.8 926.1,827.9C926.3,826.9 926.6,825.9 926.9,825.0C927.2,824.0 927.4,823.0 927.7,822.1C928.0,821.1 928.3,820.1 928.5,819.2C928.8,818.2 929.1,817.2 929.4,816.3C929.7,815.3 929.9,814.3 930.2,813.4C930.5,812.4 930.8,811.4 931.1,810.5C931.3,809.5 931.6,808.6 931.9,807.6C932.2,806.6 932.5,805.7 932.8,804.7C933.1,803.7 933.4,802.8 933.6,801.8C933.9,800.9 934.2,799.9 934.5,798.9C934.8,798.0 935.1,797.0 935.4,796.1C935.7,795.1 936.0,794.1 936.3,793.2C936.6,792.2 936.9,791.3 937.2,790.3C937.5,789.3 937.8,788.4 938.1,787.4C938.4,786.5 938.7,785.5 939.0,784.5C939.3,783.6 939.6,782.6 939.9,781.7C940.2,780.7 940.5,779.8 940.8,778.8C941.1,777.8 941.4,776.9 941.7,775.9C942.0,775.0 942.3,774.0 942.6,773.1C942.9,772.1 943.2,771.2 943.5,770.2C943.8,769.2 944.1,768.3 944.5,767.3C944.8,766.4 945.1,765.4 945.4,764.5C945.7,763.5 946.0,762.6 946.3,761.6C946.6,760.6 947.0,759.7 947.3,758.7C947.6,757.8 947.9,756.8 948.2,755.9C948.5,754.9 948.8,754.0 949.2,753.0C949.5,752.1 949.8,751.1 950.1,750.1C950.4,749.2 950.8,748.2 951.1,747.3C951.4,746.3 951.7,745.4 952.0,744.4C952.4,743.5 952.7,742.5 953.0,741.6C953.3,740.6 953.7,739.7 954.0,738.7C954.3,737.8 954.6,736.8 955.0,735.9C955.3,734.9 955.6,734.0 956.0,733.0C956.3,732.1 956.6,731.1 957.0,730.2C957.3,729.2 957.6,728.3 958.0,727.3C958.3,726.4 958.7,725.4 959.0,724.5C959.3,723.5 959.7,722.6 960.0,721.7C960.4,720.7 960.7,719.8 961.1,718.8C961.4,717.9 961.7,716.9 962.1,716.0C962.4,715.0 962.8,714.1 963.2,713.2C963.5,712.2 963.9,711.3 964.2,710.3C964.6,709.4 964.9,708.5 965.3,707.5C965.6,706.6 966.0,705.7 966.4,704.7C966.7,703.8 967.1,702.8 967.5,701.9C967.8,701.0 968.2,700.0 968.6,699.1C968.9,698.2 969.3,697.2 969.7,696.3C970.1,695.4 970.4,694.4 970.8,693.5C971.2,692.6 971.6,691.7 972.0,690.7C972.3,689.8 972.7,688.9 973.1,688.0C973.5,687.0 973.9,686.1 974.3,685.2C974.7,684.3 975.1,683.3 975.5,682.4C975.9,681.5 976.3,680.6 976.7,679.6C977.1,678.7 977.5,677.8 977.9,676.9C978.3,676.0 978.7,675.1 979.1,674.1C979.5,673.2 979.9,672.3 980.3,671.4C980.8,670.5 981.2,669.6 981.6,668.7C982.0,667.8 982.4,666.9 982.9,666.0C983.3,665.1 983.7,664.1 984.2,663.2C984.6,662.3 985.1,661.4 985.5,660.6C986.0,659.7 986.4,658.8 986.9,657.9C987.3,657.0 987.8,656.1 988.3,655.2C988.7,654.3 989.2,653.4 989.7,652.5C990.2,651.7 990.7,650.8 991.1,649.9C991.6,649.0 992.1,648.2 992.6,647.3C993.2,646.4 993.7,645.6 994.2,644.7C994.7,643.8 995.2,643.0 995.8,642.1C996.3,641.3 996.8,640.4 997.4,639.5C997.9,638.7 998.5,637.8 999.0,637.0C999.6,636.2 1000.2,635.3 1000.8,634.5C1001.3,633.7 1001.9,632.8 1002.5,632.0C1003.1,631.2 1003.7,630.3 1004.3,629.5C1005.0,628.7 1005.6,627.9 1006.2,627.1C1006.9,626.3 1007.5,625.5 1008.2,624.8C1008.8,624.0 1009.5,623.3 1010.2,622.5C1010.9,621.8 1011.6,621.1 1012.3,620.4C1013.1,619.7 1013.8,619.1 1014.6,618.4C1015.3,617.8 1016.1,617.2 1016.9,616.6C1017.7,616.1 1018.6,615.5 1019.4,615.0C1020.3,614.5 1021.1,614.0 1022.0,613.6C1022.9,613.2 1023.9,612.8 1024.8,612.4C1025.7,612.1 1026.7,611.8 1027.7,611.6C1028.6,611.3 1029.6,611.1 1030.6,611.0C1031.6,610.8 1032.5,610.7 1033.5,610.7C1034.5,610.7 1035.5,610.7 1036.5,610.8C1037.4,610.9 1038.4,611.1 1039.3,611.3C1040.3,611.5 1041.2,611.8 1042.1,612.2C1043.0,612.5 1043.9,612.9 1044.8,613.4C1045.7,613.8 1046.5,614.3 1047.4,614.9C1048.3,615.4 1049.1,616.0 1049.9,616.6C1050.8,617.2 1051.6,617.8 1052.4,618.4C1053.2,619.1 1054.0,619.8 1054.8,620.5C1055.5,621.1 1056.3,621.8 1057.1,622.5C1057.8,623.2 1058.6,623.9 1059.3,624.6C1060.0,625.3 1060.8,626.0 1061.5,626.7C1062.2,627.4 1062.9,628.1 1063.6,628.8C1064.3,629.5 1064.9,630.2 1065.6,630.9C1066.3,631.6 1067.0,632.3 1067.6,633.0C1068.3,633.7 1068.9,634.4 1069.6,635.1C1070.2,635.8 1070.9,636.6 1071.5,637.3C1072.2,638.0 1072.8,638.8 1073.5,639.5C1074.1,640.3 1074.7,641.0 1075.4,641.8C1076.0,642.6 1076.6,643.4 1077.3,644.1C1077.9,644.9 1078.5,645.7 1079.2,646.5C1079.8,647.3 1080.4,648.1 1081.1,648.9C1081.7,649.7 1082.3,650.6 1083.0,651.4C1083.6,652.2 1084.3,653.0 1084.9,653.8C1085.5,654.6 1086.2,655.4 1086.8,656.3C1087.5,657.1 1088.1,657.9 1088.8,658.7C1089.4,659.5 1090.1,660.3 1090.8,661.1C1091.4,661.9 1092.1,662.7 1092.8,663.5C1093.4,664.3 1094.1,665.1 1094.8,665.8C1095.5,666.6 1096.2,667.4 1096.8,668.1C1097.5,668.9 1098.2,669.6 1099.0,670.4C1099.7,671.1 1100.4,671.8 1101.1,672.5C1101.8,673.3 1102.6,674.0 1103.3,674.6C1104.0,675.3 1104.8,676.0 1105.5,676.6C1106.3,677.3 1107.1,677.9 1107.8,678.5C1108.6,679.1 1109.4,679.7 1110.2,680.3C1111.0,680.9 1111.8,681.5 1112.6,682.0C1113.4,682.6 1114.2,683.1 1115.1,683.7C1115.9,684.2 1116.7,684.7 1117.6,685.2C1118.4,685.7 1119.2,686.2 1120.1,686.6C1121.0,687.1 1121.8,687.6 1122.7,688.0C1123.6,688.4 1124.4,688.9 1125.3,689.3C1126.2,689.7 1127.1,690.1 1128.0,690.5C1128.9,690.9 1129.8,691.3 1130.7,691.6C1131.6,692.0 1132.5,692.3 1133.4,692.7C1134.4,693.0 1135.3,693.3 1136.2,693.7C1137.2,694.0 1138.1,694.3 1139.0,694.6C1140.0,694.9 1140.9,695.2 1141.9,695.4C1142.8,695.7 1143.8,696.0 1144.7,696.2C1145.7,696.5 1146.7,696.7 1147.6,696.9C1148.6,697.2 1149.6,697.4 1150.6,697.6C1151.5,697.8 1152.5,698.0 1153.5,698.2C1154.5,698.4 1155.5,698.6 1156.5,698.8C1157.5,699.0 1158.5,699.1 1159.5,699.3C1160.5,699.5 1161.5,699.6 1162.5,699.8C1163.5,699.9 1164.5,700.1 1165.5,700.2C1166.5,700.3 1167.5,700.5 1168.5,700.6C1169.5,700.7 1170.5,700.8 1171.5,700.9C1172.5,701.0 1173.6,701.1 1174.6,701.2C1175.6,701.3 1176.6,701.4 1177.6,701.5C1178.6,701.6 1179.7,701.6 1180.7,701.7C1181.7,701.8 1182.7,701.9 1183.8,701.9C1184.8,702.0 1185.8,702.1 1186.8,702.1C1187.8,702.2 1188.9,702.2 1189.9,702.3C1190.9,702.3 1191.9,702.4 1192.9,702.4C1194.0,702.4 1195.0,702.5 1196.0,702.5C1197.0,702.5 1198.0,702.6 1199.1,702.6C1200.1,702.6 1201.1,702.7 1202.1,702.7C1203.1,702.7 1204.1,702.7 1205.1,702.8C1206.1,702.8 1207.2,702.8 1208.2,702.8C1209.2,702.8 1210.2,702.8 1211.2,702.9C1212.2,702.9 1213.2,702.9 1214.2,702.9C1215.2,702.9 1216.2,702.9 1217.2,702.9C1218.2,702.9 1219.2,702.9 1220.2,702.9C1221.2,702.9 1222.2,702.9 1223.2,702.9C1224.2,702.9 1225.2,702.9 1226.2,702.9C1227.2,702.9 1228.2,702.9 1229.2,702.9C1230.2,702.9 1231.2,702.9 1232.2,702.9C1233.2,702.9 1234.2,702.9 1235.2,702.9C1236.2,702.9 1237.2,702.9 1238.1,702.9C1239.1,702.9 1240.1,702.9 1241.1,702.9C1242.1,702.9 1243.1,702.9 1244.1,702.8C1245.1,702.8 1246.1,702.8 1247.1,702.8C1248.1,702.8 1249.1,702.8 1250.1,702.8C1251.1,702.8 1252.1,702.8 1253.1,702.8C1254.1,702.8 1255.1,702.8 1256.1,702.7C1257.1,702.7 1258.1,702.7 1259.0,702.7C1260.0,702.7 1261.0,702.7 1262.0,702.7C1263.0,702.7 1264.0,702.7 1265.0,702.7C1266.0,702.7 1267.0,702.7 1268.0,702.7C1269.0,702.7 1270.0,702.7 1271.1,702.7C1272.1,702.7 1273.1,702.7 1274.1,702.7C1275.1,702.7 1276.1,702.7 1277.1,702.7C1278.1,702.7 1279.1,702.7 1280.1,702.7C1281.1,702.7 1282.1,702.7 1283.1,702.7C1284.2,702.7 1285.2,702.7 1286.2,702.7C1287.2,702.7 1288.2,702.8 1289.2,702.8C1290.3,702.8 1291.3,702.8 1292.3,702.8C1293.3,702.8 1294.3,702.9 1295.4,702.9C1296.4,702.9 1297.4,702.9 1298.5,703.0C1299.5,703.0 1300.5,703.0 1301.5,703.1C1302.6,703.1 1303.6,703.1 1304.7,703.2" fill="none" stroke="#ff0000" stroke-width="4.7" stroke-linecap="round" stroke-linejoin="round" stroke-dasharray="13.9 17.7" stroke-dashoffset="29.88"/>
<path d="M814.70,984.63C815.7,984.5 816.7,984.4 817.7,984.4C818.7,984.3 819.7,984.2 820.7,984.2C821.7,984.1 822.7,984.1 823.7,984.1C824.7,984.0 825.7,984.0 826.7,984.0C827.7,984.0 828.7,984.0 829.7,983.9C830.7,983.9 831.7,983.9 832.7,983.8C833.7,983.8 834.7,983.7 835.7,983.7C836.7,983.6 837.8,983.6 838.8,983.5C839.8,983.4 840.8,983.3 841.8,983.2C842.8,983.0 843.8,982.9 844.8,982.7C845.8,982.6 846.8,982.4 847.8,982.2C848.8,981.9 849.8,981.7 850.7,981.4C851.7,981.1 852.7,980.8 853.7,980.5C854.6,980.2 855.6,979.8 856.6,979.4C857.5,979.0 858.5,978.6 859.4,978.2C860.3,977.8 861.2,977.3 862.1,976.8C863.0,976.3 863.9,975.8 864.8,975.3C865.7,974.8 866.5,974.2 867.3,973.6C868.2,973.1 869.0,972.5 869.8,971.9C870.6,971.2 871.3,970.6 872.1,969.9C872.8,969.3 873.5,968.6 874.2,967.9C874.9,967.2 875.6,966.5 876.2,965.8C876.9,965.0 877.5,964.3 878.1,963.5C878.7,962.7 879.2,962.0 879.8,961.2C880.3,960.4 880.9,959.5 881.4,958.7C881.9,957.9 882.4,957.0 882.9,956.2C883.4,955.3 883.8,954.5 884.3,953.6C884.8,952.7 885.2,951.8 885.6,950.9C886.0,950.0 886.4,949.1 886.8,948.2C887.3,947.3 887.6,946.3 888.0,945.4C888.4,944.5 888.8,943.5 889.1,942.6C889.5,941.6 889.9,940.7 890.2,939.7C890.6,938.8 890.9,937.8 891.3,936.8C891.6,935.9 891.9,934.9 892.3,933.9C892.6,932.9 893.0,932.0 893.3,931.0C893.6,930.0 894.0,929.0 894.3,928.0C894.7,927.1 895.0,926.1 895.3,925.1C895.7,924.1 896.0,923.2 896.4,922.2C896.7,921.2 897.1,920.2 897.5,919.3C897.8,918.3 898.2,917.4 898.6,916.4C899.0,915.4 899.4,914.5 899.8,913.6C900.2,912.6 900.6,911.7 901.0,910.7C901.5,909.8 901.9,908.9 902.4,908.0C902.8,907.1 903.3,906.2 903.8,905.3C904.3,904.4 904.8,903.5 905.3,902.7C905.9,901.8 906.4,901.0 907.0,900.2C907.6,899.4 908.2,898.6 908.8,897.8C909.4,897.0 910.1,896.3 910.7,895.6C911.4,894.9 912.1,894.2 912.9,893.6C913.6,892.9 914.4,892.3 915.2,891.8C916.0,891.2 916.8,890.7 917.7,890.2C918.5,889.7 919.4,889.2 920.3,888.8C921.2,888.4 922.1,888.1 923.0,887.7C924.0,887.4 924.9,887.2 925.8,886.9C926.8,886.7 927.7,886.5 928.7,886.4C929.7,886.3 930.6,886.2 931.6,886.1C932.6,886.0 933.6,886.0 934.6,886.0C935.6,886.0 936.5,886.1 937.5,886.1C938.5,886.2 939.5,886.3 940.5,886.4C941.6,886.5 942.6,886.6 943.6,886.8C944.6,886.9 945.6,887.1 946.6,887.2C947.6,887.4 948.6,887.6 949.6,887.7C950.6,887.9 951.6,888.1 952.6,888.3C953.6,888.5 954.6,888.7 955.6,888.8C956.6,889.0 957.6,889.2 958.6,889.4C959.6,889.6 960.6,889.9 961.6,890.1C962.6,890.3 963.6,890.5 964.6,890.7C965.6,890.9 966.6,891.1 967.6,891.4C968.6,891.6 969.6,891.8 970.6,892.1C971.5,892.3 972.5,892.5 973.5,892.7C974.5,893.0 975.5,893.2 976.5,893.5C977.5,893.7 978.5,893.9 979.4,894.2C980.4,894.4 981.4,894.7 982.4,894.9C983.4,895.1 984.4,895.4 985.4,895.6C986.3,895.9 987.3,896.1 988.3,896.4C989.3,896.6 990.3,896.9 991.3,897.1C992.2,897.3 993.2,897.6 994.2,897.8C995.2,898.1 996.2,898.3 997.2,898.6C998.1,898.8 999.1,899.0 1000.1,899.3C1001.1,899.5 1002.1,899.8 1003.0,900.0C1004.0,900.2 1005.0,900.5 1006.0,900.7C1007.0,900.9 1008.0,901.2 1008.9,901.4C1009.9,901.6 1010.9,901.9 1011.9,902.1C1012.9,902.3 1013.9,902.5 1014.8,902.8C1015.8,903.0 1016.8,903.2 1017.8,903.4C1018.8,903.6 1019.8,903.8 1020.8,904.0C1021.8,904.2 1022.7,904.4 1023.7,904.6C1024.7,904.8 1025.7,905.0 1026.7,905.2C1027.7,905.4 1028.7,905.6 1029.7,905.8C1030.6,906.0 1031.6,906.2 1032.6,906.3C1033.6,906.5 1034.6,906.7 1035.6,906.9C1036.6,907.1 1037.6,907.2 1038.6,907.4C1039.6,907.6 1040.6,907.7 1041.6,907.9C1042.5,908.1 1043.5,908.2 1044.5,908.4C1045.5,908.6 1046.5,908.7 1047.5,908.9C1048.5,909.0 1049.5,909.2 1050.5,909.3C1051.5,909.5 1052.5,909.6 1053.5,909.8C1054.5,909.9 1055.5,910.0 1056.5,910.2C1057.5,910.3 1058.5,910.4 1059.5,910.6C1060.5,910.7 1061.5,910.8 1062.5,911.0C1063.4,911.1 1064.4,911.2 1065.4,911.3C1066.4,911.5 1067.4,911.6 1068.4,911.7C1069.4,911.8 1070.4,911.9 1071.4,912.1C1072.4,912.2 1073.4,912.3 1074.4,912.4C1075.4,912.5 1076.4,912.6 1077.4,912.7C1078.4,912.8 1079.4,912.9 1080.4,913.0C1081.4,913.1 1082.5,913.2 1083.5,913.3C1084.5,913.4 1085.5,913.5 1086.5,913.6C1087.5,913.7 1088.5,913.8 1089.5,913.9C1090.5,914.0 1091.5,914.0 1092.5,914.1C1093.5,914.2 1094.5,914.3 1095.5,914.4C1096.5,914.4 1097.5,914.5 1098.5,914.6C1099.5,914.7 1100.5,914.7 1101.5,914.8C1102.5,914.9 1103.5,915.0 1104.5,915.0C1105.5,915.1 1106.5,915.2 1107.6,915.2C1108.6,915.3 1109.6,915.4 1110.6,915.4C1111.6,915.5 1112.6,915.5 1113.6,915.6C1114.6,915.6 1115.6,915.7 1116.6,915.8C1117.6,915.8 1118.6,915.9 1119.6,915.9C1120.6,916.0 1121.7,916.0 1122.7,916.1C1123.7,916.1 1124.7,916.2 1125.7,916.2C1126.7,916.2 1127.7,916.3 1128.7,916.3C1129.7,916.4 1130.7,916.4 1131.7,916.4C1132.7,916.5 1133.8,916.5 1134.8,916.6C1135.8,916.6 1136.8,916.6 1137.8,916.7C1138.8,916.7 1139.8,916.7 1140.8,916.8C1141.8,916.8 1142.8,916.8 1143.8,916.8C1144.9,916.9 1145.9,916.9 1146.9,916.9C1147.9,917.0 1148.9,917.0 1149.9,917.0C1150.9,917.0 1151.9,917.0 1152.9,917.1C1154.0,917.1 1155.0,917.1 1156.0,917.1C1157.0,917.1 1158.0,917.2 1159.0,917.2C1160.0,917.2 1161.0,917.2 1162.0,917.2C1163.1,917.2 1164.1,917.3 1165.1,917.3C1166.1,917.3 1167.1,917.3 1168.1,917.3C1169.1,917.3 1170.1,917.3 1171.1,917.3C1172.2,917.3 1173.2,917.3 1174.2,917.4C1175.2,917.4 1176.2,917.4 1177.2,917.4C1178.2,917.4 1179.2,917.4 1180.2,917.4C1181.3,917.4 1182.3,917.4 1183.3,917.4C1184.3,917.4 1185.3,917.4 1186.3,917.4C1187.3,917.4 1188.3,917.4 1189.4,917.4C1190.4,917.4 1191.4,917.4 1192.4,917.4C1193.4,917.4 1194.4,917.4 1195.4,917.4C1196.4,917.4 1197.4,917.4 1198.5,917.4C1199.5,917.4 1200.5,917.4 1201.5,917.4C1202.5,917.4 1203.5,917.4 1204.5,917.4C1205.5,917.4 1206.6,917.4 1207.6,917.4C1208.6,917.4 1209.6,917.4 1210.6,917.4C1211.6,917.4 1212.6,917.3 1213.6,917.3C1214.6,917.3 1215.7,917.3 1216.7,917.3C1217.7,917.3 1218.7,917.3 1219.7,917.3C1220.7,917.3 1221.7,917.3 1222.7,917.3C1223.7,917.3 1224.7,917.3 1225.8,917.3C1226.8,917.3 1227.8,917.3 1228.8,917.3C1229.8,917.2 1230.8,917.2 1231.8,917.2C1232.8,917.2 1233.8,917.2 1234.9,917.2C1235.9,917.2 1236.9,917.2 1237.9,917.2C1238.9,917.2 1239.9,917.2 1240.9,917.2C1241.9,917.2 1242.9,917.2 1243.9,917.2C1244.9,917.2 1246.0,917.2 1247.0,917.1C1248.0,917.1 1249.0,917.1 1250.0,917.1C1251.0,917.1 1252.0,917.1 1253.0,917.1C1254.0,917.1 1255.0,917.1 1256.0,917.1C1257.0,917.1 1258.1,917.1 1259.1,917.1C1260.1,917.1 1261.1,917.1 1262.1,917.1C1263.1,917.1 1264.1,917.1 1265.1,917.1C1266.1,917.1 1267.1,917.1 1268.1,917.1C1269.1,917.1 1270.1,917.1 1271.1,917.1C1272.1,917.1 1273.1,917.1 1274.2,917.1C1275.2,917.1 1276.2,917.1 1277.2,917.1C1278.2,917.1 1279.2,917.1 1280.2,917.2C1281.2,917.2 1282.2,917.2 1283.2,917.2C1284.2,917.2 1285.2,917.2 1286.2,917.2C1287.2,917.2 1288.2,917.2 1289.2,917.2C1290.2,917.3 1291.2,917.3 1292.2,917.3C1293.2,917.3 1294.2,917.3 1295.2,917.3C1296.2,917.3 1297.2,917.4 1298.2,917.4C1299.2,917.4 1300.2,917.4 1301.2,917.4C1302.2,917.5 1303.2,917.5 1304.2,917.5" fill="none" stroke="#ff0000" stroke-width="4.7" stroke-linecap="round" stroke-linejoin="round" stroke-dasharray="13.9 17.7" stroke-dashoffset="27.49"/>
<path d="M814.78,984.75C815.7,984.7 816.7,984.6 817.6,984.5C818.6,984.4 819.5,984.3 820.5,984.2C821.5,984.2 822.5,984.1 823.5,984.1C824.4,984.0 825.4,984.0 826.4,983.9C827.4,983.9 828.5,983.8 829.5,983.8C830.5,983.7 831.5,983.7 832.5,983.6C833.5,983.6 834.6,983.5 835.6,983.5C836.6,983.4 837.7,983.3 838.7,983.2C839.7,983.2 840.8,983.1 841.8,983.0C842.9,982.9 843.9,982.7 844.9,982.6C846.0,982.4 847.0,982.3 848.0,982.1C849.0,981.9 850.0,981.7 851.0,981.5C852.0,981.2 853.0,980.9 853.9,980.6C854.9,980.3 855.8,980.0 856.7,979.6C857.6,979.2 858.5,978.8 859.3,978.3C860.2,977.8 861.0,977.3 861.8,976.8C862.6,976.3 863.4,975.7 864.2,975.1C865.0,974.5 865.7,973.8 866.4,973.2C867.1,972.5 867.8,971.8 868.5,971.1C869.2,970.4 869.8,969.6 870.5,968.9C871.1,968.1 871.7,967.3 872.3,966.5C872.9,965.7 873.5,964.9 874.1,964.1C874.6,963.3 875.2,962.4 875.7,961.6C876.2,960.7 876.7,959.8 877.2,958.9C877.7,958.1 878.2,957.2 878.7,956.3C879.1,955.4 879.6,954.5 880.0,953.6C880.5,952.7 880.9,951.8 881.3,950.8C881.7,949.9 882.1,949.0 882.5,948.1C882.9,947.1 883.2,946.2 883.6,945.3C884.0,944.3 884.3,943.4 884.7,942.4C885.0,941.5 885.4,940.5 885.7,939.6C886.0,938.6 886.3,937.7 886.7,936.7C887.0,935.8 887.3,934.8 887.6,933.8C887.9,932.9 888.2,931.9 888.5,930.9C888.8,930.0 889.1,929.0 889.4,928.0C889.7,927.1 890.0,926.1 890.2,925.1C890.5,924.1 890.8,923.2 891.1,922.2C891.4,921.2 891.7,920.3 892.0,919.3C892.3,918.3 892.6,917.3 892.8,916.4C893.1,915.4 893.4,914.4 893.7,913.5C894.0,912.5 894.3,911.6 894.6,910.6C894.9,909.6 895.2,908.7 895.5,907.7C895.8,906.8 896.1,905.8 896.4,904.8C896.7,903.9 897.1,902.9 897.4,902.0C897.7,901.0 898.0,900.1 898.3,899.1C898.6,898.1 898.9,897.2 899.2,896.2C899.5,895.3 899.8,894.3 900.1,893.4C900.4,892.4 900.7,891.5 901.0,890.5C901.3,889.5 901.6,888.6 901.9,887.6C902.3,886.7 902.6,885.7 902.8,884.8C903.1,883.8 903.4,882.8 903.7,881.9C904.0,880.9 904.3,880.0 904.6,879.0C904.9,878.0 905.2,877.1 905.5,876.1C905.8,875.1 906.0,874.2 906.3,873.2C906.6,872.3 906.9,871.3 907.2,870.3C907.4,869.4 907.7,868.4 908.0,867.4C908.2,866.5 908.5,865.5 908.8,864.5C909.1,863.5 909.3,862.6 909.6,861.6C909.9,860.6 910.1,859.7 910.4,858.7C910.7,857.7 910.9,856.7 911.2,855.8C911.5,854.8 911.7,853.8 912.0,852.9C912.3,851.9 912.5,850.9 912.8,849.9C913.1,849.0 913.3,848.0 913.6,847.0C913.9,846.1 914.1,845.1 914.4,844.1C914.7,843.1 914.9,842.2 915.2,841.2C915.5,840.2 915.7,839.3 916.0,838.3C916.3,837.3 916.6,836.3 916.8,835.4C917.1,834.4 917.4,833.4 917.7,832.5C917.9,831.5 918.2,830.5 918.5,829.6C918.8,828.6 919.0,827.6 919.3,826.7C919.6,825.7 919.9,824.7 920.2,823.8C920.5,822.8 920.8,821.8 921.1,820.9C921.4,819.9 921.7,819.0 922.0,818.0C922.3,817.0 922.6,816.1 922.9,815.1C923.2,814.2 923.5,813.2 923.8,812.3C924.1,811.3 924.4,810.4 924.7,809.4C925.1,808.4 925.4,807.5 925.7,806.5C926.0,805.6 926.4,804.6 926.7,803.7C927.0,802.8 927.4,801.8 927.7,800.9C928.1,799.9 928.4,799.0 928.8,798.0C929.1,797.1 929.5,796.2 929.9,795.2C930.2,794.3 930.6,793.4 931.0,792.4C931.3,791.5 931.7,790.6 932.1,789.6C932.5,788.7 932.9,787.8 933.3,786.9C933.7,786.0 934.1,785.0 934.5,784.1C934.9,783.2 935.4,782.3 935.8,781.4C936.2,780.5 936.7,779.6 937.1,778.7C937.6,777.8 938.0,776.9 938.5,776.0C939.0,775.1 939.4,774.2 939.9,773.3C940.4,772.4 940.9,771.6 941.4,770.7C941.9,769.8 942.4,768.9 943.0,768.1C943.5,767.2 944.0,766.3 944.6,765.5C945.1,764.6 945.7,763.8 946.3,762.9C946.8,762.1 947.4,761.3 948.0,760.4C948.6,759.6 949.3,758.8 949.9,757.9C950.5,757.1 951.1,756.3 951.8,755.5C952.4,754.7 953.1,753.9 953.8,753.2C954.5,752.4 955.2,751.6 955.9,750.9C956.6,750.2 957.3,749.5 958.0,748.8C958.8,748.1 959.5,747.5 960.3,746.8C961.0,746.2 961.8,745.6 962.6,745.1C963.4,744.5 964.2,744.0 965.0,743.5C965.8,743.0 966.7,742.6 967.5,742.2C968.4,741.8 969.2,741.4 970.1,741.1C971.0,740.8 971.9,740.6 972.8,740.4C973.7,740.2 974.6,740.0 975.6,739.9C976.5,739.8 977.4,739.8 978.4,739.8C979.4,739.8 980.4,739.9 981.3,740.1C982.3,740.2 983.3,740.4 984.3,740.6C985.3,740.8 986.3,741.1 987.3,741.4C988.3,741.7 989.3,742.0 990.3,742.4C991.3,742.8 992.3,743.2 993.3,743.6C994.3,744.0 995.3,744.4 996.3,744.9C997.2,745.3 998.2,745.8 999.1,746.3C1000.0,746.8 1001.0,747.3 1001.9,747.7C1002.8,748.2 1003.7,748.7 1004.6,749.2C1005.4,749.7 1006.3,750.2 1007.2,750.7C1008.0,751.3 1008.9,751.8 1009.7,752.3C1010.6,752.8 1011.4,753.3 1012.3,753.8C1013.1,754.3 1014.0,754.8 1014.8,755.3C1015.6,755.9 1016.5,756.4 1017.3,756.9C1018.2,757.4 1019.0,757.9 1019.9,758.4C1020.8,758.9 1021.6,759.4 1022.5,759.8C1023.3,760.3 1024.2,760.8 1025.1,761.3C1025.9,761.8 1026.8,762.3 1027.7,762.8C1028.6,763.2 1029.4,763.7 1030.3,764.2C1031.2,764.7 1032.1,765.2 1033.0,765.6C1033.8,766.1 1034.7,766.6 1035.6,767.1C1036.5,767.6 1037.4,768.0 1038.3,768.5C1039.1,769.0 1040.0,769.5 1040.9,770.0C1041.8,770.4 1042.7,770.9 1043.6,771.4C1044.5,771.9 1045.3,772.4 1046.2,772.9C1047.1,773.4 1048.0,773.8 1048.9,774.3C1049.8,774.8 1050.6,775.3 1051.5,775.8C1052.4,776.3 1053.3,776.8 1054.1,777.3C1055.0,777.9 1055.9,778.4 1056.8,778.9C1057.6,779.4 1058.5,779.9 1059.4,780.4C1060.2,780.9 1061.1,781.4 1062.0,782.0C1062.9,782.5 1063.7,783.0 1064.6,783.5C1065.5,784.0 1066.3,784.5 1067.2,785.0C1068.1,785.5 1069.0,786.0 1069.8,786.5C1070.7,787.0 1071.6,787.5 1072.5,788.0C1073.4,788.5 1074.2,789.0 1075.1,789.5C1076.0,790.0 1076.9,790.4 1077.8,790.9C1078.7,791.4 1079.6,791.8 1080.5,792.3C1081.3,792.7 1082.2,793.2 1083.2,793.6C1084.1,794.1 1085.0,794.5 1085.9,794.9C1086.8,795.3 1087.7,795.7 1088.6,796.1C1089.5,796.5 1090.5,796.9 1091.4,797.3C1092.3,797.6 1093.3,798.0 1094.2,798.3C1095.1,798.7 1096.1,799.0 1097.0,799.4C1098.0,799.7 1098.9,800.0 1099.9,800.3C1100.9,800.6 1101.8,800.9 1102.8,801.2C1103.7,801.5 1104.7,801.8 1105.7,802.0C1106.6,802.3 1107.6,802.6 1108.6,802.8C1109.6,803.1 1110.6,803.3 1111.5,803.5C1112.5,803.8 1113.5,804.0 1114.5,804.2C1115.5,804.4 1116.5,804.6 1117.4,804.8C1118.4,805.0 1119.4,805.2 1120.4,805.4C1121.4,805.6 1122.4,805.7 1123.4,805.9C1124.4,806.1 1125.4,806.2 1126.4,806.4C1127.4,806.5 1128.4,806.7 1129.4,806.8C1130.4,806.9 1131.4,807.1 1132.3,807.2C1133.3,807.3 1134.3,807.4 1135.3,807.5C1136.3,807.6 1137.3,807.8 1138.3,807.8C1139.3,807.9 1140.3,808.0 1141.3,808.1C1142.3,808.2 1143.3,808.3 1144.3,808.4C1145.3,808.4 1146.3,808.5 1147.3,808.6C1148.3,808.7 1149.3,808.7 1150.3,808.8C1151.4,808.8 1152.4,808.9 1153.4,808.9C1154.4,809.0 1155.4,809.0 1156.4,809.1C1157.4,809.1 1158.4,809.1 1159.4,809.2C1160.4,809.2 1161.4,809.2 1162.4,809.2C1163.4,809.3 1164.4,809.3 1165.4,809.3C1166.4,809.3 1167.4,809.3 1168.4,809.3C1169.4,809.4 1170.5,809.4 1171.5,809.4C1172.5,809.4 1173.5,809.4 1174.5,809.4C1175.5,809.4 1176.5,809.4 1177.5,809.4C1178.5,809.4 1179.5,809.4 1180.5,809.4C1181.5,809.4 1182.5,809.3 1183.5,809.3C1184.6,809.3 1185.6,809.3 1186.6,809.3C1187.6,809.3 1188.6,809.3 1189.6,809.3C1190.6,809.3 1191.6,809.2 1192.6,809.2C1193.6,809.2 1194.6,809.2 1195.6,809.2C1196.7,809.2 1197.7,809.1 1198.7,809.1C1199.7,809.1 1200.7,809.1 1201.7,809.1C1202.7,809.1 1203.7,809.1 1204.7,809.0C1205.7,809.0 1206.7,809.0 1207.7,809.0C1208.8,809.0 1209.8,809.0 1210.8,809.0C1211.8,809.0 1212.8,809.0 1213.8,809.0C1214.8,808.9 1215.8,808.9 1216.8,808.9C1217.8,808.9 1218.8,808.9 1219.8,808.9C1220.8,808.9 1221.8,808.9 1222.9,808.9C1223.9,808.9 1224.9,808.9 1225.9,808.9C1226.9,808.9 1227.9,809.0 1228.9,809.0C1229.9,809.0 1230.9,809.0 1231.9,809.0C1232.9,809.0 1233.9,809.0 1234.9,809.0C1235.9,809.0 1236.9,809.0 1237.9,809.0C1238.9,809.0 1239.9,809.1 1241.0,809.1C1242.0,809.1 1243.0,809.1 1244.0,809.1C1245.0,809.1 1246.0,809.1 1247.0,809.1C1248.0,809.1 1249.0,809.2 1250.0,809.2C1251.0,809.2 1252.0,809.2 1253.0,809.2C1254.0,809.2 1255.0,809.2 1256.0,809.2C1257.0,809.2 1258.0,809.3 1259.0,809.3C1260.1,809.3 1261.1,809.3 1262.1,809.3C1263.1,809.3 1264.1,809.3 1265.1,809.3C1266.1,809.3 1267.1,809.3 1268.1,809.3C1269.1,809.3 1270.1,809.4 1271.1,809.4C1272.1,809.4 1273.1,809.4 1274.1,809.4C1275.1,809.4 1276.1,809.4 1277.2,809.4C1278.2,809.4 1279.2,809.4 1280.2,809.4C1281.2,809.4 1282.2,809.4 1283.2,809.4C1284.2,809.4 1285.2,809.4 1286.2,809.4C1287.2,809.4 1288.2,809.3 1289.2,809.3C1290.2,809.3 1291.3,809.3 1292.3,809.3C1293.3,809.3 1294.3,809.3 1295.3,809.3C1296.3,809.2 1297.3,809.2 1298.3,809.2C1299.3,809.2 1300.3,809.2 1301.3,809.1C1302.3,809.1 1303.4,809.1 1304.4,809.0" fill="none" stroke="#ff0000" stroke-width="4.7" stroke-linecap="round" stroke-linejoin="round"/>
<circle cx="846.60" cy="885.30" r="6.4" fill="#000" fill-opacity="0.75"/>
<circle cx="861.60" cy="846.80" r="6.4" fill="#000" fill-opacity="0.75"/>
<circle cx="876.20" cy="871.60" r="6.4" fill="#000" fill-opacity="0.75"/>
<circle cx="892.10" cy="858.20" r="6.4" fill="#000" fill-opacity="0.75"/>
<circle cx="906.90" cy="913.00" r="6.4" fill="#000" fill-opacity="0.75"/>
<circle cx="921.70" cy="928.20" r="6.4" fill="#000" fill-opacity="0.75"/>
<circle cx="937.40" cy="888.70" r="6.4" fill="#000" fill-opacity="0.75"/>
<circle cx="952.20" cy="776.50" r="6.4" fill="#000" fill-opacity="0.75"/>
<circle cx="967.10" cy="773.10" r="6.4" fill="#000" fill-opacity="0.75"/>
<circle cx="982.60" cy="807.10" r="6.4" fill="#000" fill-opacity="0.75"/>
<circle cx="997.80" cy="800.00" r="6.4" fill="#000" fill-opacity="0.75"/>
<circle cx="1011.90" cy="837.30" r="6.4" fill="#000" fill-opacity="0.75"/>
<circle cx="1028.20" cy="774.00" r="6.4" fill="#000" fill-opacity="0.75"/>
<circle cx="1042.80" cy="830.50" r="6.4" fill="#000" fill-opacity="0.75"/>
<circle cx="1057.60" cy="783.20" r="6.4" fill="#000" fill-opacity="0.75"/>
<circle cx="1073.50" cy="799.20" r="6.4" fill="#000" fill-opacity="0.75"/>
<circle cx="1092.50" cy="795.50" r="6.4" fill="#000" fill-opacity="0.75"/>
<circle cx="1143.70" cy="824.90" r="6.4" fill="#000" fill-opacity="0.75"/>
<circle cx="1175.60" cy="834.00" r="6.4" fill="#000" fill-opacity="0.75"/>
<circle cx="1219.40" cy="847.80" r="6.4" fill="#000" fill-opacity="0.75"/>
<circle cx="1269.50" cy="798.10" r="6.4" fill="#000" fill-opacity="0.75"/>
<circle cx="818.40" cy="939.20" r="6.4" fill="#548235" fill-opacity="0.9"/>
<circle cx="846.90" cy="930.50" r="6.4" fill="#548235" fill-opacity="0.9"/>
<circle cx="861.60" cy="904.60" r="6.4" fill="#548235" fill-opacity="0.9"/>
<circle cx="876.20" cy="898.70" r="6.4" fill="#548235" fill-opacity="0.9"/>
<circle cx="892.10" cy="901.20" r="6.4" fill="#548235" fill-opacity="0.9"/>
<circle cx="906.70" cy="847.70" r="6.4" fill="#548235" fill-opacity="0.9"/>
<circle cx="921.50" cy="865.40" r="6.4" fill="#548235" fill-opacity="0.9"/>
<circle cx="937.30" cy="781.30" r="6.4" fill="#548235" fill-opacity="0.9"/>
<circle cx="952.00" cy="761.70" r="6.4" fill="#548235" fill-opacity="0.9"/>
<circle cx="966.80" cy="799.10" r="6.4" fill="#548235" fill-opacity="0.9"/>
<circle cx="982.50" cy="792.00" r="6.4" fill="#548235" fill-opacity="0.9"/>
<circle cx="997.20" cy="773.10" r="6.4" fill="#548235" fill-opacity="0.9"/>
<circle cx="1012.30" cy="769.40" r="6.4" fill="#548235" fill-opacity="0.9"/>
<circle cx="1028.10" cy="788.90" r="6.4" fill="#548235" fill-opacity="0.9"/>
<circle cx="1043.10" cy="752.80" r="6.4" fill="#548235" fill-opacity="0.9"/>
<circle cx="1057.60" cy="757.20" r="6.4" fill="#548235" fill-opacity="0.9"/>
<circle cx="1073.50" cy="760.80" r="6.4" fill="#548235" fill-opacity="0.9"/>
<circle cx="1092.80" cy="773.10" r="6.4" fill="#548235" fill-opacity="0.9"/>
<circle cx="1143.70" cy="742.40" r="6.4" fill="#548235" fill-opacity="0.9"/>
<circle cx="1175.60" cy="740.20" r="6.4" fill="#548235" fill-opacity="0.9"/>
<circle cx="1219.70" cy="758.60" r="6.4" fill="#548235" fill-opacity="0.9"/>
<circle cx="1269.50" cy="760.60" r="6.4" fill="#548235" fill-opacity="0.9"/>
<path d="M810.80,942.10L824.40,955.70M810.80,955.70L824.40,942.10" stroke="#00b050" stroke-width="2.6" fill="none"/>
<path d="M839.60,878.00L853.20,891.60M839.60,891.60L853.20,878.00" stroke="#00b050" stroke-width="2.6" fill="none"/>
<path d="M855.20,889.40L868.80,903.00M855.20,903.00L868.80,889.40" stroke="#00b050" stroke-width="2.6" fill="none"/>
<path d="M869.90,880.20L883.50,893.80M869.90,893.80L883.50,880.20" stroke="#00b050" stroke-width="2.6" fill="none"/>
<path d="M885.80,868.50L899.40,882.10M885.80,882.10L899.40,868.50" stroke="#00b050" stroke-width="2.6" fill="none"/>
<path d="M900.70,806.20L914.30,819.80M900.70,819.80L914.30,806.20" stroke="#00b050" stroke-width="2.6" fill="none"/>
<path d="M916.40,780.40L930.00,794.00M916.40,794.00L930.00,780.40" stroke="#00b050" stroke-width="2.6" fill="none"/>
<path d="M931.30,866.70L944.90,880.30M931.30,880.30L944.90,866.70" stroke="#00b050" stroke-width="2.6" fill="none"/>
<path d="M947.50,822.30L961.10,835.90M947.50,835.90L961.10,822.30" stroke="#00b050" stroke-width="2.6" fill="none"/>
<path d="M961.80,809.70L975.40,823.30M961.80,823.30L975.40,809.70" stroke="#00b050" stroke-width="2.6" fill="none"/>
<path d="M977.70,820.10L991.30,833.70M977.70,833.70L991.30,820.10" stroke="#00b050" stroke-width="2.6" fill="none"/>
<path d="M992.50,798.50L1006.10,812.10M992.50,812.10L1006.10,798.50" stroke="#00b050" stroke-width="2.6" fill="none"/>
<path d="M1008.40,792.80L1022.00,806.40M1008.40,806.40L1022.00,792.80" stroke="#00b050" stroke-width="2.6" fill="none"/>
<path d="M1024.00,781.40L1037.60,795.00M1024.00,795.00L1037.60,781.40" stroke="#00b050" stroke-width="2.6" fill="none"/>
<path d="M1039.10,746.20L1052.70,759.80M1039.10,759.80L1052.70,746.20" stroke="#00b050" stroke-width="2.6" fill="none"/>
<path d="M1055.00,800.40L1068.60,814.00M1055.00,814.00L1068.60,800.40" stroke="#00b050" stroke-width="2.6" fill="none"/>
<path d="M1069.40,767.10L1083.00,780.70M1069.40,780.70L1083.00,767.10" stroke="#00b050" stroke-width="2.6" fill="none"/>
<path d="M1090.20,751.00L1103.80,764.60M1090.20,764.60L1103.80,751.00" stroke="#00b050" stroke-width="2.6" fill="none"/>
<path d="M1140.70,771.50L1154.30,785.10M1140.70,785.10L1154.30,771.50" stroke="#00b050" stroke-width="2.6" fill="none"/>
<path d="M1173.80,801.80L1187.40,815.40M1173.80,815.40L1187.40,801.80" stroke="#00b050" stroke-width="2.6" fill="none"/>
<path d="M1217.70,788.40L1231.30,802.00M1217.70,802.00L1231.30,788.40" stroke="#00b050" stroke-width="2.6" fill="none"/>
<path d="M1268.90,809.90L1282.50,823.50M1268.90,823.50L1282.50,809.90" stroke="#00b050" stroke-width="2.6" fill="none"/>
<path d="M810.90,953.90L824.70,967.70M810.90,967.70L824.70,953.90M817.80,953.75L817.80,967.85" stroke="#ed7d31" stroke-width="2.8" fill="none"/>
<path d="M839.10,951.20L852.90,965.00M839.10,965.00L852.90,951.20M846.00,951.05L846.00,965.15" stroke="#ed7d31" stroke-width="2.8" fill="none"/>
<path d="M855.90,966.30L869.70,980.10M855.90,980.10L869.70,966.30M862.80,966.15L862.80,980.25" stroke="#ed7d31" stroke-width="2.8" fill="none"/>
<path d="M870.50,914.90L884.30,928.70M870.50,928.70L884.30,914.90M877.40,914.75L877.40,928.85" stroke="#ed7d31" stroke-width="2.8" fill="none"/>
<path d="M886.90,941.20L900.70,955.00M886.90,955.00L900.70,941.20M893.80,941.05L893.80,955.15" stroke="#ed7d31" stroke-width="2.8" fill="none"/>
<path d="M901.70,913.60L915.50,927.40M901.70,927.40L915.50,913.60M908.60,913.45L908.60,927.55" stroke="#ed7d31" stroke-width="2.8" fill="none"/>
<path d="M917.20,863.20L931.00,877.00M917.20,877.00L931.00,863.20M924.10,863.05L924.10,877.15" stroke="#ed7d31" stroke-width="2.8" fill="none"/>
<path d="M933.00,846.30L946.80,860.10M933.00,860.10L946.80,846.30M939.90,846.15L939.90,860.25" stroke="#ed7d31" stroke-width="2.8" fill="none"/>
<path d="M948.90,817.50L962.70,831.30M948.90,831.30L962.70,817.50M955.80,817.35L955.80,831.45" stroke="#ed7d31" stroke-width="2.8" fill="none"/>
<path d="M964.90,844.10L978.70,857.90M964.90,857.90L978.70,844.10M971.80,843.95L971.80,858.05" stroke="#ed7d31" stroke-width="2.8" fill="none"/>
<path d="M979.90,846.00L993.70,859.80M979.90,859.80L993.70,846.00M986.80,845.85L986.80,859.95" stroke="#ed7d31" stroke-width="2.8" fill="none"/>
<path d="M995.50,832.60L1009.30,846.40M995.50,846.40L1009.30,832.60M1002.40,832.45L1002.40,846.55" stroke="#ed7d31" stroke-width="2.8" fill="none"/>
<path d="M1011.90,826.70L1025.70,840.50M1011.90,840.50L1025.70,826.70M1018.80,826.55L1018.80,840.65" stroke="#ed7d31" stroke-width="2.8" fill="none"/>
<path d="M1027.50,857.20L1041.30,871.00M1027.50,871.00L1041.30,857.20M1034.40,857.05L1034.40,871.15" stroke="#ed7d31" stroke-width="2.8" fill="none"/>
<path d="M1041.90,835.70L1055.70,849.50M1041.90,849.50L1055.70,835.70M1048.80,835.55L1048.80,849.65" stroke="#ed7d31" stroke-width="2.8" fill="none"/>
<path d="M1057.70,849.30L1071.50,863.10M1057.70,863.10L1071.50,849.30M1064.60,849.15L1064.60,863.25" stroke="#ed7d31" stroke-width="2.8" fill="none"/>
<path d="M1073.80,822.50L1087.60,836.30M1073.80,836.30L1087.60,822.50M1080.70,822.35L1080.70,836.45" stroke="#ed7d31" stroke-width="2.8" fill="none"/>
<path d="M1093.90,789.40L1107.70,803.20M1093.90,803.20L1107.70,789.40M1100.80,789.25L1100.80,803.35" stroke="#ed7d31" stroke-width="2.8" fill="none"/>
<path d="M1146.40,828.00L1160.20,841.80M1146.40,841.80L1160.20,828.00M1153.30,827.85L1153.30,841.95" stroke="#ed7d31" stroke-width="2.8" fill="none"/>
<path d="M1179.10,866.60L1192.90,880.40M1179.10,880.40L1192.90,866.60M1186.00,866.45L1186.00,880.55" stroke="#ed7d31" stroke-width="2.8" fill="none"/>
<path d="M1224.00,840.90L1237.80,854.70M1224.00,854.70L1237.80,840.90M1230.90,840.75L1230.90,854.85" stroke="#ed7d31" stroke-width="2.8" fill="none"/>
<path d="M1276.80,863.20L1290.60,877.00M1276.80,877.00L1290.60,863.20M1283.70,863.05L1283.70,877.15" stroke="#ed7d31" stroke-width="2.8" fill="none"/>
<circle cx="817.10" cy="959.00" r="6.60" fill="none" stroke="#000" stroke-width="1.4"/>
<circle cx="845.50" cy="911.30" r="6.60" fill="none" stroke="#000" stroke-width="1.4"/>
<circle cx="861.60" cy="905.70" r="6.60" fill="none" stroke="#000" stroke-width="1.4"/>
<circle cx="876.20" cy="918.00" r="6.60" fill="none" stroke="#000" stroke-width="1.4"/>
<circle cx="892.10" cy="876.90" r="6.60" fill="none" stroke="#000" stroke-width="1.4"/>
<circle cx="908.10" cy="904.20" r="6.60" fill="none" stroke="#000" stroke-width="1.4"/>
<circle cx="923.70" cy="830.50" r="6.60" fill="none" stroke="#000" stroke-width="1.4"/>
<circle cx="939.50" cy="859.10" r="6.60" fill="none" stroke="#000" stroke-width="1.4"/>
<circle cx="954.40" cy="856.90" r="6.60" fill="none" stroke="#000" stroke-width="1.4"/>
<circle cx="970.30" cy="870.20" r="6.60" fill="none" stroke="#000" stroke-width="1.4"/>
<circle cx="986.00" cy="797.00" r="6.60" fill="none" stroke="#000" stroke-width="1.4"/>
<circle cx="1002.00" cy="802.40" r="6.60" fill="none" stroke="#000" stroke-width="1.4"/>
<circle cx="1016.90" cy="794.30" r="6.60" fill="none" stroke="#000" stroke-width="1.4"/>
<circle cx="1032.40" cy="812.60" r="6.60" fill="none" stroke="#000" stroke-width="1.4"/>
<circle cx="1048.30" cy="813.50" r="6.60" fill="none" stroke="#000" stroke-width="1.4"/>
<circle cx="1064.40" cy="865.60" r="6.60" fill="none" stroke="#000" stroke-width="1.4"/>
<circle cx="1079.00" cy="869.30" r="6.60" fill="none" stroke="#000" stroke-width="1.4"/>
<circle cx="1100.50" cy="824.90" r="6.60" fill="none" stroke="#000" stroke-width="1.4"/>
<circle cx="1152.70" cy="864.50" r="6.60" fill="none" stroke="#000" stroke-width="1.4"/>
<circle cx="1185.40" cy="848.90" r="6.60" fill="none" stroke="#000" stroke-width="1.4"/>
<circle cx="1229.90" cy="838.00" r="6.60" fill="none" stroke="#000" stroke-width="1.4"/>
<circle cx="1282.20" cy="768.40" r="6.60" fill="none" stroke="#000" stroke-width="1.4"/>
<circle cx="818.40" cy="950.90" r="7.30" fill="none" stroke="#c55a11" stroke-width="2.1"/>
<circle cx="847.70" cy="954.80" r="7.30" fill="none" stroke="#c55a11" stroke-width="2.1"/>
<circle cx="863.30" cy="976.10" r="7.30" fill="none" stroke="#c55a11" stroke-width="2.1"/>
<circle cx="879.50" cy="941.70" r="7.30" fill="none" stroke="#c55a11" stroke-width="2.1"/>
<circle cx="895.40" cy="935.90" r="7.30" fill="none" stroke="#c55a11" stroke-width="2.1"/>
<circle cx="911.10" cy="810.50" r="7.30" fill="none" stroke="#c55a11" stroke-width="2.1"/>
<circle cx="927.30" cy="840.20" r="7.30" fill="none" stroke="#c55a11" stroke-width="2.1"/>
<circle cx="942.80" cy="773.10" r="7.30" fill="none" stroke="#c55a11" stroke-width="2.1"/>
<circle cx="959.00" cy="704.00" r="7.30" fill="none" stroke="#c55a11" stroke-width="2.1"/>
<circle cx="974.90" cy="727.60" r="7.30" fill="none" stroke="#c55a11" stroke-width="2.1"/>
<circle cx="990.50" cy="739.10" r="7.30" fill="none" stroke="#c55a11" stroke-width="2.1"/>
<circle cx="1006.50" cy="716.50" r="7.30" fill="none" stroke="#c55a11" stroke-width="2.1"/>
<circle cx="1022.30" cy="743.50" r="7.30" fill="none" stroke="#c55a11" stroke-width="2.1"/>
<circle cx="1038.30" cy="697.30" r="7.30" fill="none" stroke="#c55a11" stroke-width="2.1"/>
<circle cx="1054.10" cy="726.70" r="7.30" fill="none" stroke="#c55a11" stroke-width="2.1"/>
<circle cx="1070.10" cy="692.50" r="7.30" fill="none" stroke="#c55a11" stroke-width="2.1"/>
<circle cx="1085.90" cy="710.80" r="7.30" fill="none" stroke="#c55a11" stroke-width="2.1"/>
<circle cx="1106.20" cy="709.50" r="7.30" fill="none" stroke="#c55a11" stroke-width="2.1"/>
<circle cx="1159.50" cy="698.40" r="7.30" fill="none" stroke="#c55a11" stroke-width="2.1"/>
<circle cx="1193.50" cy="663.50" r="7.30" fill="none" stroke="#c55a11" stroke-width="2.1"/>
<circle cx="1238.80" cy="749.30" r="7.30" fill="none" stroke="#c55a11" stroke-width="2.1"/>
<circle cx="1289.30" cy="715.20" r="7.30" fill="none" stroke="#c55a11" stroke-width="2.1"/>
<circle cx="1179.30" cy="590.40" r="6.60" fill="none" stroke="#000" stroke-width="1.4"/>
<text x="1197.68" y="600.30" font-size="30.5" font-weight="normal" font-style="normal" fill="#000" >Experiment</text>
<line x1="1165.9" y1="638.7" x2="1193.2" y2="638.7" stroke="#ff0000" stroke-width="4.5" stroke-linecap="round"/>
<text x="1197.42" y="648.40" font-size="30.5" font-weight="normal" font-style="normal" fill="#000" >Simulation</text>
<text transform="translate(975.11,600.10) scale(0.92,1.0)" font-size="35" font-weight="normal" font-style="normal" fill="#000">Δ</text>
<text x="996.62" y="600.10" font-size="35" font-weight="normal" font-style="italic" fill="#000" >T</text>
<rect x="1029.40" y="585.05" width="21.30" height="2.10" fill="#000"/>
<rect x="1029.40" y="593.15" width="21.30" height="2.10" fill="#000"/>
<text x="1057.72" y="600.10" font-size="35" font-weight="normal" font-style="normal" fill="#000" >7</text>
<circle cx="1090.00" cy="583.90" r="3.4" fill="none" stroke="#000" stroke-width="1.4"/>
<text x="1094.50" y="600.10" font-size="35" font-weight="normal" font-style="normal" fill="#000" >C</text>
<text transform="translate(1119.01,963.60) scale(0.92,1.0)" font-size="35" font-weight="normal" font-style="normal" fill="#000">Δ</text>
<text x="1140.52" y="963.60" font-size="35" font-weight="normal" font-style="italic" fill="#000" >T</text>
<rect x="1173.30" y="948.55" width="21.30" height="2.10" fill="#000"/>
<rect x="1173.30" y="956.65" width="21.30" height="2.10" fill="#000"/>
<text x="1203.93" y="963.60" font-size="35" font-weight="normal" font-style="normal" fill="#000" >1.25</text>
<circle cx="1276.70" cy="947.40" r="3.4" fill="none" stroke="#000" stroke-width="1.4"/>
<text x="1281.70" y="963.60" font-size="35" font-weight="normal" font-style="normal" fill="#000" >C</text>
</svg>
</body></html>
